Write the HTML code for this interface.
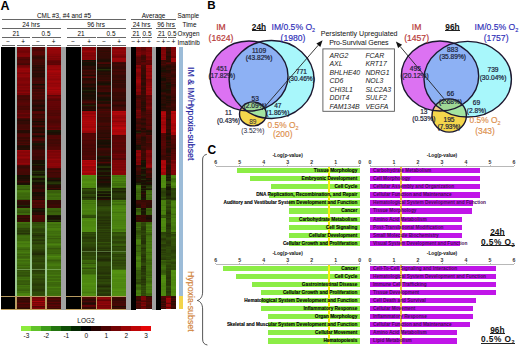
<!DOCTYPE html><html><head><meta charset="utf-8"><style>
*{margin:0;padding:0;box-sizing:border-box}
html,body{width:520px;height:347px;background:#fff;overflow:hidden}
body{position:relative;font-family:"Liberation Sans",sans-serif;color:#222}
.a{position:absolute;white-space:nowrap}
.hm{position:absolute}
.t7{font-size:7.2px;line-height:1}
.ln{position:absolute;height:1px;background:#555}
</style></head><body>
<div class="a" style="left:0.5px;top:0px;font-size:12.5px;font-weight:bold;line-height:12px;color:#000">A</div>
<div class="a" style="left:64.0px;top:12.8px;width:0;font-size:6.4px;line-height:1;color:#0a0a0a;display:flex;justify-content:center;"><span>CML #3, #4 and #5</span></div>
<div class="a" style="left:2.0px;top:19.0px;width:123.5px;height:1.0px;background:#666"></div>
<div class="a" style="left:31.0px;top:22.3px;width:0;font-size:6.4px;line-height:1;color:#0a0a0a;display:flex;justify-content:center;"><span>24 hrs</span></div>
<div class="a" style="left:2.0px;top:28.0px;width:58.5px;height:1.0px;background:#666"></div>
<div class="a" style="left:96.0px;top:22.3px;width:0;font-size:6.4px;line-height:1;color:#0a0a0a;display:flex;justify-content:center;"><span>96 hrs</span></div>
<div class="a" style="left:67.0px;top:28.0px;width:58.5px;height:1.0px;background:#666"></div>
<div class="a" style="left:153.5px;top:12.8px;width:0;font-size:6.4px;line-height:1;color:#0a0a0a;display:flex;justify-content:center;"><span>Average</span></div>
<div class="a" style="left:131.0px;top:19.0px;width:45.0px;height:1.0px;background:#666"></div>
<div class="a" style="left:141.5px;top:22.3px;width:0;font-size:6.4px;line-height:1;color:#0a0a0a;display:flex;justify-content:center;"><span>24 hrs</span></div>
<div class="a" style="left:131.0px;top:28.0px;width:21.0px;height:1.0px;background:#666"></div>
<div class="a" style="left:166.0px;top:22.3px;width:0;font-size:6.4px;line-height:1;color:#0a0a0a;display:flex;justify-content:center;"><span>96 hrs</span></div>
<div class="a" style="left:156.0px;top:28.0px;width:20.0px;height:1.0px;background:#666"></div>
<div class="a" style="left:177.5px;top:12.8px;font-size:6.4px;line-height:1;color:#0a0a0a;">Sample</div>
<div class="a" style="left:182.5px;top:22.3px;font-size:6.4px;line-height:1;color:#0a0a0a;">Time</div>
<div class="a" style="left:177.5px;top:31.3px;font-size:6.4px;line-height:1;color:#0a0a0a;">Oxygen</div>
<div class="a" style="left:177.5px;top:39.8px;font-size:6.4px;line-height:1;color:#0a0a0a;">Imatinib</div>
<div class="a" style="left:16.0px;top:31.3px;width:0;font-size:6.4px;line-height:1;color:#0a0a0a;display:flex;justify-content:center;"><span>21</span></div>
<div class="a" style="left:2.0px;top:36.5px;width:28.0px;height:1.0px;background:#666"></div>
<div class="a" style="left:46.0px;top:31.3px;width:0;font-size:6.4px;line-height:1;color:#0a0a0a;display:flex;justify-content:center;"><span>0.5</span></div>
<div class="a" style="left:32.0px;top:36.5px;width:28.5px;height:1.0px;background:#666"></div>
<div class="a" style="left:81.0px;top:31.3px;width:0;font-size:6.4px;line-height:1;color:#0a0a0a;display:flex;justify-content:center;"><span>21</span></div>
<div class="a" style="left:67.0px;top:36.5px;width:28.5px;height:1.0px;background:#666"></div>
<div class="a" style="left:111.0px;top:31.3px;width:0;font-size:6.4px;line-height:1;color:#0a0a0a;display:flex;justify-content:center;"><span>0.5</span></div>
<div class="a" style="left:97.0px;top:36.5px;width:28.5px;height:1.0px;background:#666"></div>
<div class="a" style="left:136.0px;top:31.3px;width:0;font-size:6.4px;line-height:1;color:#0a0a0a;display:flex;justify-content:center;"><span>21</span></div>
<div class="a" style="left:131.0px;top:36.5px;width:9.5px;height:1.0px;background:#666"></div>
<div class="a" style="left:147.0px;top:31.3px;width:0;font-size:6.4px;line-height:1;color:#0a0a0a;display:flex;justify-content:center;"><span>0.5</span></div>
<div class="a" style="left:142.0px;top:36.5px;width:10.0px;height:1.0px;background:#666"></div>
<div class="a" style="left:161.5px;top:31.3px;width:0;font-size:6.4px;line-height:1;color:#0a0a0a;display:flex;justify-content:center;"><span>21</span></div>
<div class="a" style="left:157.0px;top:36.5px;width:9.5px;height:1.0px;background:#666"></div>
<div class="a" style="left:172.0px;top:31.3px;width:0;font-size:6.4px;line-height:1;color:#0a0a0a;display:flex;justify-content:center;"><span>0.5</span></div>
<div class="a" style="left:167.5px;top:36.5px;width:8.5px;height:1.0px;background:#666"></div>
<div class="a" style="left:8.0px;top:39.0px;width:0;font-size:6.4px;line-height:1;color:#000;display:flex;justify-content:center;"><span>−</span></div>
<div class="a" style="left:2.0px;top:44.5px;width:12.5px;height:1.0px;background:#666"></div>
<div class="a" style="left:23.0px;top:39.0px;width:0;font-size:6.4px;line-height:1;color:#000;display:flex;justify-content:center;"><span>+</span></div>
<div class="a" style="left:16.5px;top:44.5px;width:13.5px;height:1.0px;background:#666"></div>
<div class="a" style="left:38.0px;top:39.0px;width:0;font-size:6.4px;line-height:1;color:#000;display:flex;justify-content:center;"><span>−</span></div>
<div class="a" style="left:32.0px;top:44.5px;width:13.0px;height:1.0px;background:#666"></div>
<div class="a" style="left:53.5px;top:39.0px;width:0;font-size:6.4px;line-height:1;color:#000;display:flex;justify-content:center;"><span>+</span></div>
<div class="a" style="left:47.0px;top:44.5px;width:13.5px;height:1.0px;background:#666"></div>
<div class="a" style="left:73.0px;top:39.0px;width:0;font-size:6.4px;line-height:1;color:#000;display:flex;justify-content:center;"><span>−</span></div>
<div class="a" style="left:67.0px;top:44.5px;width:13.0px;height:1.0px;background:#666"></div>
<div class="a" style="left:89.0px;top:39.0px;width:0;font-size:6.4px;line-height:1;color:#000;display:flex;justify-content:center;"><span>+</span></div>
<div class="a" style="left:82.0px;top:44.5px;width:13.5px;height:1.0px;background:#666"></div>
<div class="a" style="left:104.0px;top:39.0px;width:0;font-size:6.4px;line-height:1;color:#000;display:flex;justify-content:center;"><span>−</span></div>
<div class="a" style="left:97.0px;top:44.5px;width:13.5px;height:1.0px;background:#666"></div>
<div class="a" style="left:119.0px;top:39.0px;width:0;font-size:6.4px;line-height:1;color:#000;display:flex;justify-content:center;"><span>+</span></div>
<div class="a" style="left:112.0px;top:44.5px;width:13.5px;height:1.0px;background:#666"></div>
<div class="a" style="left:133.5px;top:39.0px;width:0;font-size:6.6px;line-height:1;color:#000;display:flex;justify-content:center;"><span>−</span></div>
<div class="a" style="left:138.5px;top:39.0px;width:0;font-size:6.6px;line-height:1;color:#000;display:flex;justify-content:center;"><span>+</span></div>
<div class="a" style="left:143.5px;top:39.0px;width:0;font-size:6.6px;line-height:1;color:#000;display:flex;justify-content:center;"><span>−</span></div>
<div class="a" style="left:149.0px;top:39.0px;width:0;font-size:6.6px;line-height:1;color:#000;display:flex;justify-content:center;"><span>+</span></div>
<div class="a" style="left:158.5px;top:39.0px;width:0;font-size:6.6px;line-height:1;color:#000;display:flex;justify-content:center;"><span>−</span></div>
<div class="a" style="left:163.5px;top:39.0px;width:0;font-size:6.6px;line-height:1;color:#000;display:flex;justify-content:center;"><span>+</span></div>
<div class="a" style="left:168.5px;top:39.0px;width:0;font-size:6.6px;line-height:1;color:#000;display:flex;justify-content:center;"><span>−</span></div>
<div class="a" style="left:173.5px;top:39.0px;width:0;font-size:6.6px;line-height:1;color:#000;display:flex;justify-content:center;"><span>+</span></div>
<div style="position:absolute;left:0;top:0;width:200px;height:320px;filter:blur(0.4px)">
<div class="hm" style="left:61.0px;top:47px;width:5.0px;height:263px;background:#a2a2a2"></div>
<div class="hm" style="left:126.0px;top:47px;width:5.0px;height:263px;background:#a2a2a2"></div>
<div class="hm" style="left:151.5px;top:47px;width:4.5px;height:263px;background:#a2a2a2"></div>
<div class="hm" style="left:1.0px;top:47px;width:15.0px;height:263px;background:#000"></div>
<div class="hm" style="left:66.0px;top:47px;width:15.5px;height:263px;background:#000"></div>
<div class="hm" style="left:131.0px;top:47px;width:4.5px;height:263px;background:#000"></div>
<div class="hm" style="left:156.0px;top:47px;width:4.5px;height:263px;background:#000"></div>
<div class="hm" style="left:16.5px;top:47px;width:14.0px;height:249px;background:linear-gradient(to bottom,#770407 0px 1px,#7d0507 1px 2px,#790407 2px 3px,#760407 3px 4px,#6f0406 4px 5px,#720407 5px 6px,#800507 6px 8px,#860508 8px 9px,#820508 9px 10px,#580505 10px 11px,#570605 11px 12px,#490705 12px 13px,#540605 13px 14px,#570605 14px 15px,#580505 15px 16px,#490705 16px 17px,#420905 17px 18px,#6f0406 18px 19px,#740407 19px 20px,#7d0507 20px 21px,#930609 21px 22px,#990609 22px 23px,#910508 23px 24px,#960609 24px 25px,#850508 25px 26px,#7d0507 26px 27px,#8f0508 27px 28px,#8d0508 28px 29px,#920609 29px 30px,#840508 30px 31px,#7c0507 31px 33px,#7e0507 33px 34px,#850508 34px 35px,#860508 35px 36px,#800507 36px 37px,#780407 37px 39px,#880508 39px 40px,#7d0507 40px 41px,#820508 41px 42px,#850508 42px 43px,#760407 43px 44px,#7c0507 44px 45px,#8b0508 45px 46px,#740407 46px 47px,#780407 47px 48px,#470804 48px 49px,#440805 49px 50px,#4b0705 50px 52px,#410905 52px 53px,#4d0705 53px 54px,#500705 54px 55px,#550606 55px 56px,#5b0505 56px 57px,#560606 57px 58px,#520705 58px 59px,#450805 59px 60px,#4d0705 60px 61px,#480804 61px 62px,#470804 62px 63px,#5c0505 63px 64px,#5a0505 64px 65px,#5d0405 65px 66px,#6d0406 66px 67px,#5b0505 67px 68px,#560606 68px 69px,#600405 69px 70px,#700406 70px 71px,#450805 71px 72px,#340a05 72px 73px,#270c04 73px 74px,#350a05 74px 75px,#340a05 75px 76px,#310b05 76px 77px,#3e0905 77px 78px,#460805 78px 79px,#430805 79px 80px,#420905 80px 81px,#430805 81px 82px,#4c0705 82px 83px,#260c04 83px 84px,#250c05 84px 85px,#250c04 85px 86px,#400905 86px 87px,#4b0705 87px 88px,#4e0605 88px 89px,#4d0705 89px 90px,#3a0904 90px 92px,#450805 92px 93px,#360a04 93px 94px,#3c0a05 94px 95px,#470804 95px 96px,#3b0a05 96px 97px,#4b0705 97px 98px,#270c04 98px 99px,#1e0e04 99px 100px,#210d04 100px 101px,#280c04 101px 102px,#230d05 102px 103px,#980609 103px 104px,#8a0508 104px 105px,#850508 105px 106px,#900508 106px 107px,#8c0508 107px 108px,#820508 108px 109px,#8e0508 109px 110px,#980609 110px 111px,#8c0508 111px 112px,#7d0507 112px 113px,#820508 113px 114px,#830508 114px 116px,#920609 116px 117px,#840508 117px 118px,#460805 118px 119px,#390a04 119px 120px,#360a05 120px 121px,#3e0905 121px 122px,#460804 122px 123px,#490705 123px 124px,#450805 124px 125px,#430905 125px 126px,#420905 126px 127px,#440805 127px 128px,#150f04 128px 129px,#190f04 129px 130px,#200d04 130px 131px,#1a0e04 131px 132px,#240d05 132px 133px,#250c05 133px 134px,#3c0a05 134px 135px,#2d0c04 135px 136px,#1b0e04 136px 137px,#171304 137px 138px,#3e6c0d 138px 139px,#3a630c 139px 140px,#3d6a0c 140px 141px,#3c660c 141px 142px,#36580b 142px 143px,#45790e 143px 144px,#477c0f 144px 145px,#41700d 145px 146px,#3d6a0c 146px 147px,#3c680c 147px 148px,#3e6c0d 148px 149px,#3c660c 149px 150px,#3b650c 150px 151px,#3e6c0d 151px 152px,#34570b 152px 153px,#3c0a05 153px 154px,#2d0c04 154px 155px,#2c0c04 155px 156px,#2a0c04 156px 157px,#2c0c04 157px 158px,#1f2406 158px 159px,#171404 159px 160px,#2f0b05 160px 161px,#3f6d0d 161px 162px,#3d6a0c 162px 163px,#385e0b 163px 164px,#375a0b 164px 165px,#33520a 165px 166px,#3d6a0c 166px 168px,#340a05 168px 169px,#3b0904 169px 170px,#420905 170px 171px,#2a0c04 171px 172px,#3a0904 172px 173px,#2f0b05 173px 174px,#390a04 174px 175px,#41710d 175px 176px,#3d690c 176px 177px,#375c0c 177px 178px,#3a610b 178px 179px,#39610b 179px 180px,#375c0b 180px 181px,#2e4609 181px 182px,#2f4a09 182px 183px,#2a3e08 183px 184px,#293c08 184px 185px,#2e4609 185px 186px,#253207 186px 187px,#2e480a 187px 188px,#3c670c 188px 189px,#3f6e0d 189px 191px,#3d690c 191px 192px,#3e6a0d 192px 193px,#3c680c 193px 194px,#477b0f 194px 195px,#4a810f 195px 196px,#43750e 196px 197px,#477c0f 197px 198px,#497f0f 198px 199px,#4b8210 199px 200px,#406f0d 200px 201px,#3d6a0c 201px 202px,#39600b 202px 203px,#41710d 203px 205px,#477c0f 205px 206px,#3f6f0d 206px 207px,#3a620b 207px 208px,#41710d 208px 209px,#3a630c 209px 210px,#3a610b 210px 211px,#3e6a0d 211px 212px,#497f0f 212px 213px,#3e6b0d 213px 214px,#3f6f0d 214px 215px,#43760e 215px 216px,#406f0d 216px 217px,#3e6c0d 217px 218px,#3a610b 218px 219px,#41720e 219px 220px,#3d670c 220px 221px,#385f0b 221px 222px,#375b0b 222px 223px,#32510a 223px 224px,#385d0b 224px 225px,#33530a 225px 226px,#34560b 226px 227px,#35580b 227px 228px,#304d09 228px 229px,#34560b 229px 230px,#3e6c0d 230px 231px,#3c670c 231px 232px,#41710d 232px 233px,#385e0b 233px 234px,#365a0b 234px 235px,#395f0b 235px 236px,#385e0b 236px 237px,#34550b 237px 238px,#42730e 238px 239px,#3d690c 239px 240px,#41710d 240px 241px,#3e6a0d 241px 242px,#3a640c 242px 243px,#385f0b 243px 244px,#41710d 244px 245px,#3e6c0d 245px 246px,#4a810f 246px 247px,#4b8310 247px 248px,#4d8710 248px 249px)"></div>
<div class="hm" style="left:16.5px;top:296px;width:14.0px;height:13px;background:linear-gradient(to bottom,#4e0605 0px 1px,#2b0c04 1px 2px,#3e0a05 2px 3px,#3b0904 3px 4px,#3e0a05 4px 5px,#350a05 5px 6px,#420905 6px 7px,#590505 7px 8px,#3e0905 8px 9px,#460805 9px 10px,#4d0605 10px 11px,#3b0904 11px 12px,#2b0c04 12px 13px)"></div>
<div class="hm" style="left:31.5px;top:47px;width:14.0px;height:249px;background:linear-gradient(to bottom,#4e0605 0px 1px,#580505 1px 2px,#490705 2px 4px,#550606 4px 5px,#5a0505 5px 6px,#560606 6px 7px,#5a0505 7px 8px,#430905 8px 9px,#380a04 9px 10px,#2f0b05 10px 11px,#330b05 11px 12px,#3e0905 12px 13px,#480804 13px 14px,#440805 14px 15px,#420905 15px 16px,#3c0a05 16px 17px,#430905 17px 18px,#2c0c04 18px 19px,#350a05 19px 20px,#260c04 20px 21px,#320b05 21px 22px,#310b05 22px 23px,#270c04 23px 24px,#350a05 24px 26px,#270c04 26px 27px,#2a0c04 27px 28px,#2b0c04 28px 29px,#260c04 29px 30px,#370a04 30px 31px,#3e0a05 31px 32px,#410905 32px 33px,#3d0a05 33px 34px,#4a0705 34px 35px,#460804 35px 36px,#420905 36px 37px,#180f04 37px 38px,#310b05 38px 39px,#440805 39px 40px,#350a05 40px 41px,#2b0c04 41px 42px,#4a0705 42px 43px,#3f0905 43px 44px,#420905 44px 45px,#510705 45px 46px,#410905 46px 47px,#450805 47px 48px,#4f0705 48px 49px,#450805 49px 51px,#490705 51px 52px,#3d0a05 52px 53px,#2c0c04 53px 54px,#320b05 54px 55px,#3d0a05 55px 56px,#350a05 56px 57px,#2f0b05 57px 58px,#1f0e04 58px 59px,#210d04 59px 60px,#360a05 60px 61px,#330b05 61px 62px,#240d05 62px 63px,#1d0e04 63px 64px,#4e0605 64px 65px,#560606 65px 66px,#4f0605 66px 67px,#330b05 67px 68px,#3e0a05 68px 69px,#410905 69px 70px,#4c0705 70px 71px,#3a0904 71px 72px,#320b05 72px 73px,#370a04 73px 74px,#161004 74px 75px,#2f0b05 75px 76px,#320b05 76px 77px,#240c05 77px 78px,#3d0a05 78px 79px,#510705 79px 80px,#280d04 80px 81px,#210d04 81px 82px,#2b0c04 82px 83px,#2e0c04 83px 84px,#270c04 84px 85px,#1b0e04 85px 86px,#440805 86px 87px,#480804 87px 88px,#280c04 88px 89px,#150f04 89px 90px,#3a0904 90px 91px,#420905 91px 92px,#540605 92px 93px,#4c0705 93px 94px,#2f0b05 94px 95px,#320b05 95px 96px,#181805 96px 97px,#171404 97px 98px,#1e0e04 98px 99px,#2d0c04 99px 100px,#210d04 100px 101px,#250c05 101px 102px,#2f0b05 102px 103px,#420905 103px 104px,#450805 104px 105px,#430905 105px 106px,#3e0905 106px 107px,#440805 107px 108px,#420905 108px 109px,#3a0904 109px 110px,#370a04 110px 111px,#3a0904 111px 112px,#3b0a05 112px 113px,#180f04 113px 115px,#1b0e04 115px 116px,#170f04 116px 117px,#1e2305 117px 118px,#151004 118px 119px,#260c04 119px 120px,#250c04 120px 121px,#1c0e04 121px 122px,#200d04 122px 123px,#191805 123px 124px,#263408 124px 125px,#1c1f06 125px 126px,#1f2706 126px 127px,#180f04 127px 128px,#1d2006 128px 129px,#2d4509 129px 130px,#283c08 130px 131px,#1c0e04 131px 132px,#161004 132px 133px,#202806 133px 134px,#202706 134px 135px,#151004 135px 136px,#1d0e04 136px 138px,#310b05 138px 139px,#2f0b05 139px 140px,#230d05 140px 141px,#270c04 141px 142px,#380a04 142px 143px,#370a04 143px 145px,#170f04 145px 146px,#150f04 146px 147px,#210d04 147px 148px,#180f04 148px 149px,#280c04 149px 150px,#290d04 150px 151px,#2f0c04 151px 152px,#200d04 152px 153px,#550605 153px 154px,#520705 154px 155px,#460804 155px 156px,#430905 156px 157px,#530605 157px 158px,#460805 158px 159px,#490705 159px 160px,#4a0705 160px 161px,#1b0e04 161px 162px,#1d2106 162px 163px,#171504 163px 164px,#190f04 164px 165px,#280c04 165px 166px,#2b0c04 166px 167px,#210d04 167px 168px,#4f0705 168px 169px,#4d0705 169px 170px,#490705 170px 171px,#470804 171px 172px,#430805 172px 173px,#480804 173px 174px,#3e0905 174px 175px,#314e09 175px 176px,#2f4a09 176px 177px,#34540a 177px 178px,#32510a 178px 179px,#375c0c 179px 180px,#35570b 180px 181px,#2f4909 181px 182px,#2c4309 182px 183px,#2c4509 183px 184px,#2e470a 184px 185px,#33520a 185px 186px,#293c08 186px 187px,#293d08 187px 188px,#232e07 188px 189px,#293d08 189px 190px,#2a3f08 190px 191px,#304d09 191px 192px,#2a3e08 192px 193px,#263508 193px 194px,#2e490a 194px 195px,#2c4309 195px 196px,#293a08 196px 197px,#2f4b09 197px 198px,#33530a 198px 199px,#33510a 199px 200px,#304c09 200px 201px,#32500a 201px 202px,#2d4609 202px 203px,#2b4008 203px 204px,#273907 204px 205px,#263408 205px 206px,#222c07 206px 207px,#212a06 207px 208px,#2a3f08 208px 209px,#2c4209 209px 210px,#2f480a 210px 211px,#304c09 211px 212px,#2c4509 212px 213px,#2d4409 213px 214px,#2a3e08 214px 215px,#304b09 215px 216px,#32510a 216px 217px,#2f480a 217px 218px,#2d4609 218px 220px,#2c4309 220px 221px,#2e480a 221px 222px,#2a3e08 222px 223px,#283b08 223px 224px,#2a3f08 224px 225px,#2c4509 225px 226px,#2d4409 226px 227px,#36580b 227px 228px,#34540a 228px 229px,#2f4a09 229px 230px,#32520a 230px 231px,#2e4609 231px 232px,#2c4209 232px 233px,#314c09 233px 234px,#2f480a 234px 235px,#2e4609 235px 236px,#2b4008 236px 237px,#283a08 237px 238px,#293d08 238px 239px,#2d4609 239px 240px,#2d4409 240px 241px,#2c4209 241px 242px,#293a08 242px 244px,#2c4309 244px 245px,#304d09 245px 246px,#2f4909 246px 247px,#304b09 247px 248px,#314f0a 248px 249px)"></div>
<div class="hm" style="left:31.5px;top:296px;width:14.0px;height:13px;background:linear-gradient(to bottom,#790407 0px 1px,#710407 1px 2px,#7d0507 2px 3px,#850508 3px 4px,#730407 4px 5px,#a8060a 5px 6px,#750407 6px 7px,#900508 7px 8px,#7d0507 8px 9px,#910508 9px 10px,#520705 10px 11px,#6c0406 11px 12px,#800507 12px 13px)"></div>
<div class="hm" style="left:46.5px;top:47px;width:14.5px;height:249px;background:linear-gradient(to bottom,#870508 0px 1px,#9a0609 1px 2px,#900508 2px 3px,#950609 3px 4px,#920609 4px 6px,#8f0508 6px 7px,#870508 7px 8px,#890508 8px 9px,#7b0507 9px 10px,#890508 10px 11px,#7c0507 11px 12px,#810507 12px 13px,#670406 13px 14px,#5e0405 14px 15px,#5b0505 15px 16px,#620405 16px 17px,#5d0405 17px 18px,#8f0508 18px 19px,#930609 19px 20px,#980609 20px 21px,#9c0609 21px 22px,#910508 22px 23px,#a20609 23px 24px,#aa060a 24px 25px,#9e0609 25px 26px,#9b0609 26px 27px,#930609 27px 28px,#a00609 28px 29px,#930609 29px 30px,#990609 30px 31px,#920609 31px 32px,#8c0508 32px 33px,#960609 33px 34px,#a10609 34px 35px,#9a0609 35px 36px,#900508 36px 37px,#990609 37px 38px,#960609 38px 39px,#970609 39px 40px,#a3060a 40px 41px,#a5060a 41px 42px,#970609 42px 43px,#aa060a 43px 44px,#9f0609 44px 45px,#a00609 45px 46px,#940609 46px 47px,#930609 47px 48px,#5b0505 48px 49px,#700406 49px 50px,#780407 50px 51px,#650406 51px 52px,#5b0505 52px 53px,#550606 53px 54px,#670406 54px 55px,#630406 55px 56px,#650406 56px 57px,#630406 57px 58px,#640406 58px 59px,#5e0405 59px 60px,#630406 60px 61px,#5b0505 61px 62px,#600405 62px 63px,#510705 63px 64px,#550606 64px 65px,#520705 65px 66px,#4c0705 66px 67px,#510705 67px 68px,#4e0605 68px 69px,#5c0505 69px 71px,#570605 71px 72px,#510705 72px 73px,#4d0705 73px 74px,#490705 74px 75px,#4b0705 75px 76px,#510705 76px 77px,#550606 77px 78px,#590505 78px 79px,#640406 79px 80px,#560606 80px 81px,#540605 81px 82px,#680406 82px 83px,#191805 83px 84px,#191705 84px 85px,#190f04 85px 86px,#1f0e04 86px 87px,#250c05 87px 88px,#4d0705 88px 89px,#4f0705 89px 90px,#4e0605 90px 91px,#520705 91px 92px,#420905 92px 93px,#400905 93px 94px,#460805 94px 95px,#420905 95px 96px,#3f0905 96px 97px,#4a0705 97px 98px,#460804 98px 99px,#4d0605 99px 100px,#520705 100px 101px,#510705 101px 102px,#520705 102px 103px,#850508 103px 104px,#760407 104px 105px,#7c0507 105px 106px,#830508 106px 107px,#7d0507 107px 108px,#7e0507 108px 109px,#870508 109px 110px,#7c0507 110px 111px,#850508 111px 112px,#940609 112px 113px,#860508 113px 114px,#850508 114px 115px,#820508 115px 116px,#900508 116px 117px,#8b0508 117px 118px,#8f0508 118px 119px,#820508 119px 121px,#430905 121px 122px,#370a04 122px 123px,#470804 123px 124px,#4c0705 124px 125px,#3a0904 125px 126px,#440805 126px 127px,#430905 127px 128px,#460805 128px 129px,#470804 129px 130px,#3a0904 130px 131px,#191805 131px 132px,#280c04 132px 133px,#150f04 133px 134px,#1d2206 134px 135px,#243107 135px 136px,#273607 136px 137px,#1b1c05 137px 138px,#290d04 138px 139px,#260c04 139px 140px,#210d04 140px 141px,#3e0a05 141px 142px,#210d04 142px 143px,#3a630b 143px 144px,#385e0b 144px 145px,#385d0c 145px 146px,#3d690c 146px 147px,#41710d 147px 148px,#3c680c 148px 149px,#3a640c 149px 150px,#406f0d 150px 151px,#3e6b0d 151px 152px,#3e6c0d 152px 153px,#330b05 153px 154px,#320b05 154px 155px,#330b05 155px 156px,#310b05 156px 157px,#3a0904 157px 158px,#410905 158px 159px,#370a04 159px 160px,#3c0a05 160px 161px,#3c650c 161px 162px,#3b640c 162px 163px,#385e0b 163px 164px,#34540a 164px 165px,#385f0b 165px 166px,#3a620b 166px 167px,#3a610b 167px 168px,#1b1d05 168px 169px,#150f04 169px 170px,#181504 170px 171px,#1d0e04 171px 172px,#191905 172px 173px,#253207 173px 174px,#1a1a05 174px 175px,#477b0f 175px 177px,#3f6d0d 177px 178px,#41720d 178px 179px,#44770e 179px 180px,#406f0d 180px 181px,#497f0f 181px 183px,#45780e 183px 184px,#3e6c0d 184px 185px,#40700d 185px 186px,#3f6d0d 186px 187px,#43750e 187px 188px,#40700d 188px 189px,#3a620b 189px 190px,#406f0d 190px 191px,#375b0b 191px 192px,#3e6b0d 192px 193px,#3f6e0d 193px 194px,#3f6d0d 194px 195px,#3c660c 195px 196px,#44770e 196px 197px,#4b8310 197px 198px,#44770e 198px 199px,#3e6c0d 199px 200px,#3d690c 200px 201px,#34560b 201px 202px,#3a610b 202px 203px,#3c660c 203px 204px,#3a640c 204px 205px,#3c670c 205px 206px,#385e0b 206px 207px,#41720e 207px 208px,#43750e 208px 209px,#4e8810 209px 210px,#467b0f 210px 211px,#46790e 211px 212px,#3e6c0d 212px 213px,#375c0b 213px 214px,#3c660c 214px 215px,#3f6d0d 215px 216px,#42740e 216px 217px,#467a0f 217px 218px,#477c0f 218px 219px,#40700d 219px 222px,#41720e 222px 223px,#3d690c 223px 224px,#3c680c 224px 225px,#3f6d0d 225px 226px,#3d690c 226px 227px,#3f6e0d 227px 228px,#467b0f 228px 229px,#3c680c 229px 231px,#43750e 231px 232px,#3d690c 232px 233px,#3d6a0c 233px 234px,#477c0f 234px 235px,#3c670c 235px 236px,#3d690c 236px 237px,#3b650c 237px 238px,#3d690c 238px 239px,#3f6e0d 239px 240px,#497f0f 240px 241px,#3f6e0d 241px 242px,#406f0d 242px 243px,#42730e 243px 244px,#3f6e0d 244px 245px,#3f6f0d 245px 246px,#3d6a0c 246px 247px,#40700d 247px 248px,#41710d 248px 249px)"></div>
<div class="hm" style="left:46.5px;top:296px;width:14.5px;height:13px;background:linear-gradient(to bottom,#220d05 0px 1px,#3d0a05 1px 2px,#4d0605 2px 3px,#580505 3px 4px,#3e0a05 4px 5px,#420905 5px 6px,#5c0505 6px 7px,#3e0905 7px 8px,#4e0605 8px 9px,#5d0405 9px 10px,#440805 10px 11px,#560606 11px 12px,#380a04 12px 13px)"></div>
<div class="hm" style="left:82.0px;top:47px;width:14.0px;height:249px;background:linear-gradient(to bottom,#830508 0px 1px,#820508 1px 2px,#830508 2px 3px,#8c0508 3px 4px,#9d0609 4px 5px,#890508 5px 6px,#800507 6px 7px,#850508 7px 8px,#7a0507 8px 9px,#820508 9px 10px,#870508 10px 11px,#820508 11px 12px,#860508 12px 13px,#161004 13px 14px,#2a0c04 14px 15px,#171204 15px 16px,#161104 16px 17px,#150f04 17px 18px,#190f04 18px 19px,#2f0b05 19px 20px,#2d0c04 20px 21px,#250c05 21px 22px,#2f0b05 22px 23px,#450805 23px 24px,#370a04 24px 25px,#360a04 25px 26px,#430905 26px 27px,#3a0904 27px 28px,#1e0e04 28px 29px,#4a0705 29px 30px,#5c0505 30px 31px,#240d05 31px 32px,#260c04 32px 33px,#2f0c04 33px 34px,#3a0904 34px 35px,#3c0a05 35px 36px,#2f0b05 36px 37px,#1c0e04 37px 38px,#240d05 38px 39px,#360a04 39px 40px,#200d04 40px 41px,#150f04 41px 42px,#1f0e04 42px 43px,#1d2106 43px 44px,#151004 44px 45px,#180f04 45px 46px,#270c04 46px 47px,#1e0e04 47px 48px,#160f04 48px 49px,#1a0f04 49px 50px,#210d04 50px 51px,#1b0e04 51px 52px,#230d05 52px 53px,#320b05 53px 54px,#400905 54px 55px,#4f0705 55px 56px,#300b05 56px 57px,#270c04 57px 58px,#1f2606 58px 59px,#320b05 59px 60px,#230d05 60px 61px,#260c04 61px 62px,#2f0b05 62px 63px,#180f04 63px 64px,#9b0609 64px 65px,#9e0609 65px 66px,#8f0508 66px 67px,#9b0609 67px 68px,#aa060a 68px 69px,#950609 69px 70px,#a3060a 70px 71px,#a4060a 71px 72px,#a7060a 72px 73px,#a9060a 73px 74px,#b1070a 74px 75px,#a8060a 75px 76px,#ad070a 76px 77px,#a4060a 77px 78px,#a9060a 78px 79px,#9e0609 79px 80px,#9f0609 80px 81px,#b0070a 81px 82px,#ad070a 82px 83px,#a6060a 83px 84px,#9a0609 84px 85px,#970609 85px 86px,#4a0705 86px 87px,#530605 87px 89px,#540605 89px 90px,#510705 90px 91px,#580505 91px 92px,#510705 92px 93px,#4b0705 93px 94px,#520705 94px 95px,#510705 95px 96px,#4d0705 96px 97px,#490705 97px 98px,#440805 98px 99px,#4b0705 99px 100px,#4c0705 100px 101px,#420905 101px 102px,#480804 102px 103px,#490705 103px 104px,#420905 104px 105px,#4a0705 105px 106px,#470804 106px 107px,#460805 107px 108px,#4d0705 108px 109px,#540605 109px 110px,#4a0705 110px 111px,#4c0705 111px 112px,#440805 112px 113px,#b4070b 113px 114px,#a7060a 114px 115px,#af070a 115px 116px,#a3060a 116px 117px,#aa060a 117px 118px,#ba070b 118px 119px,#970609 119px 120px,#980609 120px 121px,#a20609 121px 122px,#a10609 122px 123px,#9b0609 123px 124px,#b2070b 124px 125px,#ab070a 125px 126px,#970609 126px 127px,#a5060a 127px 128px,#539011 128px 129px,#4e8910 129px 130px,#508c11 130px 131px,#4f8a11 131px 132px,#4c8510 132px 133px,#4e8710 133px 134px,#528e11 134px 135px,#549312 135px 136px,#4f8a10 136px 137px,#4d8710 137px 138px,#508c11 138px 139px,#4e8710 139px 140px,#4d8710 140px 141px,#273707 141px 142px,#314e0a 142px 143px,#2f4a09 143px 144px,#293d08 144px 145px,#273807 145px 146px,#253408 146px 147px,#314f0a 147px 148px,#2d4509 148px 149px,#2a3f08 149px 150px,#212906 150px 151px,#293d08 151px 152px,#2b4109 152px 153px,#497f0f 153px 154px,#44760e 154px 155px,#497f0f 155px 156px,#42730e 156px 157px,#49800f 157px 158px,#487d0f 158px 159px,#4a800f 159px 160px,#497f0f 160px 161px,#4a820f 161px 162px,#4d8610 162px 163px,#487e0f 163px 164px,#477b0f 164px 165px,#4a800f 165px 166px,#497f0f 166px 167px,#43750e 167px 168px,#32500a 168px 169px,#314f0a 169px 170px,#2e490a 170px 171px,#4c8410 171px 172px,#4e8710 172px 173px,#528f11 173px 174px,#4d8610 174px 175px,#4d8510 175px 176px,#4d8610 176px 177px,#4e8810 177px 178px,#4d8610 178px 179px,#4e8910 179px 180px,#508c11 180px 181px,#518c11 181px 182px,#508c11 182px 184px,#528e11 184px 185px,#2d4509 185px 186px,#314f0a 186px 187px,#2c4309 187px 188px,#304c09 188px 189px,#2c4409 189px 190px,#273807 190px 191px,#283b08 191px 192px,#2d4609 192px 193px,#2d4409 193px 194px,#2c4209 194px 195px,#33510a 195px 196px,#314f0a 196px 197px,#2e470a 197px 198px,#2e490a 198px 199px,#2d4509 199px 200px,#2a3e08 200px 201px,#283908 201px 202px,#273607 202px 203px,#273807 203px 204px,#2b4008 204px 205px,#2b4109 205px 206px,#2c4409 206px 207px,#2d4609 207px 208px,#2d4509 208px 209px,#33530a 209px 210px,#304d09 210px 211px,#2f480a 211px 212px,#314e09 212px 213px,#3d6a0c 213px 214px,#3a630b 214px 215px,#3b640c 215px 216px,#33520a 216px 217px,#41720e 217px 218px,#3e6c0d 218px 219px,#46790e 219px 220px,#3b650c 220px 221px,#314e0a 221px 222px,#3f6f0d 222px 223px,#3c680c 223px 224px,#3a620b 224px 225px,#3b650c 225px 226px,#39600b 226px 227px,#44760e 227px 228px,#4e8810 228px 229px,#4d8610 229px 230px,#4d8710 230px 231px,#4f8910 231px 232px,#4d8610 232px 233px,#4e8810 233px 234px,#4d8710 234px 235px,#4f8910 235px 236px,#539111 236px 237px,#508c11 237px 238px,#4f8910 238px 239px,#4c8510 239px 240px,#4f8a10 240px 241px,#4e8910 241px 242px,#4d8510 242px 243px,#4d8610 243px 244px,#4a820f 244px 245px,#45790e 245px 246px,#4d8510 246px 247px,#518e11 247px 248px,#4e8710 248px 249px)"></div>
<div class="hm" style="left:82.0px;top:296px;width:14.0px;height:13px;background:linear-gradient(to bottom,#550606 0px 1px,#4c0705 1px 2px,#4a0705 2px 3px,#340a05 3px 4px,#330b05 4px 5px,#4c0705 5px 6px,#300b05 6px 7px,#220d05 7px 8px,#2f0b05 8px 9px,#640406 9px 10px,#5c0505 10px 11px,#330b05 11px 12px,#330b05 12px 13px)"></div>
<div class="hm" style="left:97.0px;top:47px;width:14.0px;height:249px;background:linear-gradient(to bottom,#360a05 0px 1px,#2f0b05 1px 2px,#3b0904 2px 3px,#360a04 3px 4px,#2e0c04 4px 5px,#3a0904 5px 6px,#330b05 6px 7px,#350a05 7px 8px,#340a05 8px 9px,#320b05 9px 10px,#350a05 10px 11px,#2f0b05 11px 12px,#240d05 12px 13px,#1d0e04 13px 14px,#1f0e04 14px 15px,#420905 15px 16px,#4a0705 16px 17px,#210d04 17px 18px,#2c0c04 18px 19px,#2a0c04 19px 20px,#1b0e04 20px 21px,#150f04 21px 22px,#222d07 22px 23px,#191805 23px 24px,#200d04 24px 25px,#2b0c04 25px 26px,#260c04 26px 27px,#220d05 27px 28px,#320b05 28px 29px,#2c0c04 29px 30px,#330b05 30px 31px,#350a05 31px 32px,#300b05 32px 33px,#3e0905 33px 34px,#280d04 34px 35px,#210d04 35px 36px,#160f04 36px 37px,#171404 37px 38px,#330b05 38px 39px,#460804 39px 40px,#360a04 40px 42px,#3f0905 42px 43px,#3e0905 43px 44px,#440805 44px 45px,#200d04 45px 46px,#190f04 46px 47px,#250c04 47px 48px,#3b0904 48px 49px,#310b05 49px 50px,#1d0e04 50px 51px,#1c0e04 51px 52px,#160f04 52px 53px,#181604 53px 54px,#310b05 54px 55px,#210d04 55px 56px,#230d05 56px 57px,#450805 57px 58px,#470804 58px 59px,#3a0904 59px 60px,#260c04 60px 61px,#2b0c04 61px 62px,#410905 62px 63px,#3c0a05 63px 64px,#4e0605 64px 65px,#440805 65px 66px,#420905 66px 67px,#3c0a05 67px 68px,#3e0a05 68px 69px,#450805 69px 70px,#340a05 70px 71px,#370a04 71px 72px,#390904 72px 73px,#350a05 73px 75px,#3d0a05 75px 76px,#490705 76px 77px,#450805 77px 78px,#420905 78px 79px,#320b05 79px 80px,#430805 80px 81px,#3e0905 81px 82px,#3b0a05 82px 83px,#320b05 83px 84px,#350a05 84px 85px,#2f0b05 85px 86px,#2b0c04 86px 87px,#340a05 87px 88px,#320b05 88px 89px,#340a05 89px 90px,#240c05 90px 91px,#3f0905 91px 92px,#2d0c04 92px 93px,#171304 93px 94px,#1d0e04 94px 95px,#1a0e04 95px 96px,#150f04 96px 97px,#1d0e04 97px 98px,#2a0c04 98px 99px,#1a0f04 99px 100px,#220d05 100px 101px,#3e0905 101px 102px,#410905 102px 103px,#360a05 103px 104px,#340a05 104px 105px,#2f0b05 105px 106px,#2f0c04 106px 107px,#3a0904 107px 108px,#330b05 108px 109px,#1a1a05 109px 110px,#1c0e04 110px 111px,#180f04 111px 112px,#2d0c04 112px 113px,#240c05 113px 114px,#2c0c04 114px 115px,#4f0705 115px 116px,#2f0c04 116px 117px,#1d0e04 117px 118px,#171504 118px 119px,#222e07 119px 120px,#253207 120px 121px,#180f04 121px 122px,#1a0f04 122px 123px,#1c1f06 123px 124px,#1e2305 124px 125px,#230d05 125px 126px,#1c0e04 126px 127px,#210d04 127px 128px,#1f2706 128px 129px,#170f04 129px 130px,#2b0c04 130px 131px,#270c04 131px 132px,#170f04 132px 133px,#181504 133px 134px,#250c05 134px 135px,#2a0c04 135px 136px,#171304 136px 138px,#191605 138px 139px,#1a1c05 139px 140px,#212906 140px 141px,#2b3f08 141px 142px,#283b08 142px 143px,#304b09 143px 144px,#1d2106 144px 145px,#191905 145px 146px,#263408 146px 147px,#171304 147px 148px,#180f04 148px 149px,#293a08 149px 150px,#160f04 150px 151px,#190f04 151px 152px,#2e0c04 152px 153px,#232d07 153px 154px,#243107 154px 155px,#253308 155px 156px,#273607 156px 157px,#273807 157px 158px,#243107 158px 159px,#2d4409 159px 160px,#2f4b09 160px 161px,#324f0a 161px 162px,#304b09 162px 163px,#2e490a 163px 164px,#2b4008 164px 165px,#283c08 165px 166px,#293c08 166px 167px,#2c4209 167px 168px,#2c4309 168px 169px,#273807 169px 170px,#253308 170px 171px,#263707 171px 172px,#293d08 172px 173px,#232f07 173px 174px,#293b08 174px 175px,#273607 175px 176px,#232f07 176px 177px,#273907 177px 178px,#253408 178px 179px,#2b4109 179px 180px,#273607 180px 181px,#273807 181px 182px,#2e470a 182px 183px,#293c08 183px 184px,#2c4409 184px 185px,#263508 185px 186px,#2a3f08 186px 187px,#2b3f08 187px 188px,#283b08 188px 189px,#2b3f08 189px 190px,#283b08 190px 191px,#2b4009 191px 192px,#283907 192px 193px,#293a08 193px 194px,#283908 194px 195px,#33520a 195px 196px,#2a3e08 196px 197px,#293d08 197px 198px,#304b09 198px 199px,#2d4309 199px 200px,#293c08 200px 201px,#253408 201px 202px,#2b4109 202px 203px,#253207 203px 204px,#273907 204px 205px,#1f2606 205px 206px,#243308 206px 207px,#253207 207px 208px,#283a08 208px 209px,#2d4509 209px 210px,#273807 210px 211px,#253308 211px 212px,#212a06 212px 213px,#222c07 213px 214px,#283a08 214px 215px,#2e490a 215px 216px,#2f480a 216px 218px,#2f490a 218px 219px,#2a3e08 219px 220px,#293a08 220px 221px,#2a3e08 221px 222px,#283c08 222px 223px,#2a3d08 223px 224px,#293b08 224px 225px,#263508 225px 226px,#243107 226px 227px,#293c08 227px 228px,#2f4909 228px 229px,#263707 229px 230px,#273907 230px 231px,#243107 231px 232px,#2d4509 232px 233px,#2d4409 233px 234px,#2a3f08 234px 235px,#2f4b09 235px 236px,#2f480a 236px 237px,#293c08 237px 238px,#253408 238px 239px,#212a06 239px 240px,#293a08 240px 241px,#2e470a 241px 242px,#2a3e08 242px 243px,#263508 243px 244px,#263707 244px 245px,#2d4509 245px 246px,#283a08 246px 247px,#263408 247px 248px,#253308 248px 249px)"></div>
<div class="hm" style="left:97.0px;top:296px;width:14.0px;height:13px;background:linear-gradient(to bottom,#780407 0px 1px,#870508 1px 2px,#910508 2px 3px,#770407 3px 4px,#600405 4px 5px,#880508 5px 6px,#8b0508 6px 7px,#820508 7px 8px,#930609 8px 9px,#760407 9px 10px,#800507 10px 11px,#7c0507 11px 12px,#8d0508 12px 13px)"></div>
<div class="hm" style="left:112.0px;top:47px;width:14.0px;height:249px;background:linear-gradient(to bottom,#8a0508 0px 1px,#800507 1px 2px,#900508 2px 3px,#940609 3px 4px,#8e0508 4px 5px,#8a0508 5px 6px,#930609 6px 7px,#850508 7px 8px,#7f0507 8px 9px,#730407 9px 10px,#7b0507 10px 11px,#9b0609 11px 12px,#9a0609 12px 13px,#980609 13px 14px,#910508 14px 15px,#400905 15px 16px,#350a05 16px 17px,#410905 17px 18px,#3d0a05 18px 19px,#360a05 19px 20px,#340a05 20px 21px,#330b05 21px 22px,#3e0905 22px 23px,#460805 23px 24px,#380a04 24px 25px,#410905 25px 26px,#460804 26px 27px,#3e0a05 27px 28px,#330b05 28px 30px,#340a05 30px 31px,#3b0a05 31px 32px,#3b0904 32px 33px,#2e0c04 33px 34px,#370a04 34px 35px,#2f0b05 35px 36px,#3e0a05 36px 37px,#350a05 37px 38px,#340a05 38px 39px,#330b05 39px 40px,#350a05 40px 41px,#420905 41px 42px,#460804 42px 44px,#450805 44px 45px,#370a04 45px 48px,#330b05 48px 49px,#3c0a05 49px 50px,#380a04 50px 51px,#360a05 51px 52px,#330b05 52px 53px,#290d04 53px 54px,#380a04 54px 55px,#450805 55px 56px,#420905 56px 57px,#390904 57px 58px,#280c04 58px 59px,#340a05 59px 60px,#410905 60px 61px,#420905 61px 62px,#470804 62px 63px,#4c0705 63px 64px,#b6070b 64px 65px,#a8060a 65px 66px,#af070a 66px 68px,#9b0609 68px 70px,#910508 70px 71px,#990609 71px 72px,#a3060a 72px 73px,#990609 73px 74px,#8b0508 74px 75px,#a2060a 75px 76px,#a5060a 76px 77px,#b1070a 77px 78px,#9e0609 78px 79px,#a9060a 79px 80px,#b9070b 80px 81px,#c0070b 81px 82px,#af070a 82px 83px,#ab070a 83px 84px,#a5060a 84px 85px,#ad070a 85px 86px,#b1070a 86px 87px,#aa070a 87px 88px,#4c0705 88px 89px,#540605 89px 90px,#510705 90px 91px,#560606 91px 93px,#600405 93px 94px,#610405 94px 95px,#570605 95px 97px,#610405 97px 98px,#560606 98px 99px,#580605 99px 100px,#5d0405 100px 101px,#610405 101px 102px,#5d0405 102px 103px,#580505 103px 104px,#520705 104px 105px,#590505 105px 106px,#5e0405 106px 107px,#720407 107px 108px,#600405 108px 109px,#670406 109px 110px,#680406 110px 111px,#560606 111px 112px,#540605 112px 113px,#7d0507 113px 114px,#7b0507 114px 115px,#7d0507 115px 116px,#830508 116px 117px,#7b0507 117px 118px,#830508 118px 119px,#7c0507 119px 120px,#7a0507 120px 121px,#830508 121px 122px,#7d0507 122px 123px,#820508 123px 124px,#900508 124px 125px,#890508 125px 126px,#840508 126px 127px,#890508 127px 128px,#487e0f 128px 129px,#42740e 129px 130px,#4a820f 130px 131px,#477c0f 131px 132px,#4a800f 132px 133px,#4b8310 133px 134px,#41720e 134px 135px,#49800f 135px 136px,#3f6e0d 136px 137px,#40700d 137px 138px,#3d6a0c 138px 139px,#487e0f 139px 140px,#42720e 140px 141px,#202706 141px 142px,#253207 142px 143px,#273707 143px 144px,#1e2305 144px 145px,#222d07 145px 146px,#263707 146px 147px,#2a3e08 147px 148px,#273807 148px 149px,#263608 149px 150px,#273607 150px 151px,#212906 151px 152px,#253408 152px 153px,#44770e 153px 154px,#3e6c0d 154px 155px,#497f0f 155px 156px,#43750e 156px 157px,#3c690c 157px 158px,#497f0f 158px 159px,#4b8310 159px 160px,#4c8510 160px 161px,#4f8910 161px 162px,#4b8210 162px 163px,#4e8810 163px 164px,#4a810f 164px 165px,#42740e 165px 166px,#4b8310 166px 167px,#4b8210 167px 168px,#4e8810 168px 169px,#4a800f 169px 170px,#4b8210 170px 171px,#4a820f 171px 172px,#49800f 172px 173px,#467b0f 173px 174px,#497f0f 174px 176px,#4a810f 176px 177px,#497f0f 177px 178px,#4c8410 178px 179px,#4a810f 179px 180px,#4e8710 180px 181px,#4c8510 181px 182px,#42740e 182px 183px,#45780e 183px 184px,#4b8210 184px 185px,#2f4b09 185px 186px,#32510a 186px 187px,#375b0b 187px 188px,#36580b 188px 189px,#2f4a09 189px 190px,#2d4609 190px 191px,#2f480a 191px 192px,#32510a 192px 193px,#34560b 193px 194px,#2d4409 194px 195px,#2c4409 195px 196px,#314e0a 196px 197px,#385e0b 197px 199px,#2a3f08 199px 200px,#304d09 200px 201px,#304c09 201px 202px,#2e480a 202px 203px,#2f4a09 203px 204px,#304c09 204px 205px,#34560b 205px 206px,#36580b 206px 207px,#2c4209 207px 208px,#304b09 208px 209px,#2c4309 209px 210px,#34540a 210px 211px,#33510a 211px 212px,#2f4b09 212px 213px,#2b4009 213px 214px,#314e0a 214px 215px,#2e4609 215px 216px,#2c4409 216px 217px,#314c09 217px 218px,#2e4609 218px 219px,#324f0a 219px 220px,#33520a 220px 221px,#314e09 221px 222px,#3a630b 222px 223px,#539011 223px 224px,#539111 224px 225px,#559312 225px 226px,#539011 226px 227px,#4f8a11 227px 228px,#508c11 228px 229px,#4d8610 229px 230px,#518d11 230px 231px,#539011 231px 232px,#4e8710 232px 233px,#4d8710 233px 234px,#4c8510 234px 235px,#508b11 235px 236px,#4e8710 236px 237px,#4e8810 237px 238px,#4d8610 238px 239px,#4e8810 239px 240px,#4c8410 240px 241px,#4f8a10 241px 242px,#518e11 242px 243px,#549211 243px 244px,#4f8910 244px 245px,#518d11 245px 246px,#528f11 246px 247px,#539011 247px 248px,#528f11 248px 249px)"></div>
<div class="hm" style="left:112.0px;top:296px;width:14.0px;height:13px;background:linear-gradient(to bottom,#2f0b05 0px 1px,#3e0905 1px 2px,#3a0904 2px 3px,#3a0904 3px 4px,#340a05 4px 5px,#440805 5px 6px,#3c0a05 6px 7px,#450805 7px 8px,#470804 8px 9px,#490705 9px 10px,#210d04 10px 11px,#3b0904 11px 12px,#360a04 12px 13px)"></div>
<div class="hm" style="left:135.5px;top:47px;width:5.5px;height:249px;background:linear-gradient(to bottom,#800507 0px 1px,#6e0406 1px 2px,#6d0406 2px 3px,#700406 3px 4px,#720407 4px 5px,#7e0507 5px 6px,#780407 6px 7px,#810507 7px 8px,#700406 8px 9px,#640406 9px 10px,#530605 10px 11px,#560606 11px 12px,#580505 12px 13px,#560606 13px 14px,#580505 14px 15px,#4d0705 15px 16px,#560606 16px 17px,#510705 17px 18px,#890508 18px 19px,#860508 19px 20px,#720407 20px 21px,#810507 21px 22px,#950609 22px 23px,#940609 23px 24px,#910508 24px 25px,#820508 25px 26px,#7e0507 26px 27px,#7b0507 27px 28px,#7f0507 28px 29px,#820508 29px 30px,#8f0508 30px 31px,#890508 31px 32px,#960609 32px 33px,#9c0609 33px 34px,#9f0609 34px 35px,#9a0609 35px 36px,#8f0508 36px 37px,#890508 37px 38px,#840508 38px 39px,#7c0507 39px 40px,#7e0507 40px 41px,#7a0507 41px 42px,#8d0508 42px 43px,#8c0508 43px 44px,#830508 44px 45px,#710406 45px 46px,#790407 46px 48px,#410905 48px 49px,#3e0905 49px 50px,#350a05 50px 51px,#450805 51px 52px,#480804 52px 53px,#5c0505 53px 54px,#540605 54px 55px,#4f0705 55px 56px,#580505 56px 57px,#530605 57px 58px,#510705 58px 59px,#4c0705 59px 60px,#470804 60px 61px,#550605 61px 62px,#580605 62px 63px,#7e0507 63px 64px,#700406 64px 65px,#6c0406 65px 66px,#630406 66px 67px,#6d0406 67px 68px,#600405 68px 69px,#680406 69px 70px,#720407 70px 71px,#4c0705 71px 72px,#3e0905 72px 73px,#460805 73px 74px,#3d0a05 74px 75px,#380a04 75px 76px,#320b05 76px 77px,#400905 77px 78px,#4b0705 78px 79px,#400905 79px 80px,#3a0904 80px 82px,#4d0605 82px 83px,#280c04 83px 84px,#190f04 84px 85px,#1f2506 85px 86px,#350a05 86px 87px,#450805 87px 88px,#510705 88px 89px,#490705 89px 90px,#410905 90px 91px,#3e0905 91px 92px,#330b05 92px 93px,#420905 93px 94px,#3a0904 94px 95px,#460804 95px 96px,#390a04 96px 97px,#350a05 97px 98px,#160f04 98px 99px,#181504 99px 100px,#1d0e04 100px 101px,#1c0e04 101px 102px,#191705 102px 103px,#860508 103px 104px,#8f0508 104px 105px,#7a0507 105px 106px,#920508 106px 107px,#910508 107px 108px,#940609 108px 109px,#7d0507 109px 110px,#7c0507 110px 111px,#7f0507 111px 112px,#8d0508 112px 113px,#7d0507 113px 114px,#7b0507 114px 115px,#6f0406 115px 116px,#790407 116px 117px,#840508 117px 118px,#300b05 118px 119px,#320b05 119px 120px,#3c0a05 120px 121px,#490705 121px 122px,#480804 122px 123px,#410905 123px 124px,#370a04 124px 125px,#340a05 125px 127px,#3b0904 127px 128px,#161204 128px 129px,#270c04 129px 130px,#210d04 130px 131px,#181605 131px 132px,#240d05 132px 133px,#270c04 133px 134px,#1f0e04 134px 135px,#171304 135px 136px,#202a06 136px 137px,#212a06 137px 138px,#40700d 138px 139px,#43750e 139px 140px,#477c0f 140px 141px,#41710d 141px 142px,#3e6b0d 142px 143px,#3b650c 143px 144px,#3a620b 144px 145px,#365a0b 145px 146px,#3d6a0c 146px 147px,#3a610b 147px 148px,#3f6e0d 148px 149px,#3c660c 149px 152px,#39600b 152px 153px,#330b05 153px 154px,#3d0a05 154px 155px,#400905 155px 156px,#390a04 156px 157px,#2d0c04 157px 158px,#250c04 158px 159px,#240d05 159px 160px,#270c04 160px 161px,#3d690c 161px 162px,#304d09 162px 163px,#33530a 163px 164px,#34550a 164px 165px,#3a640c 165px 166px,#3d6a0c 166px 168px,#380a04 168px 169px,#310b05 169px 170px,#410905 170px 171px,#390a04 171px 172px,#410905 172px 173px,#2c0c04 173px 174px,#330b05 174px 175px,#3b650c 175px 176px,#3a630c 176px 177px,#395e0b 177px 178px,#385e0b 178px 179px,#39600b 179px 180px,#42730e 180px 181px,#36580b 181px 182px,#3c660c 182px 183px,#33530a 183px 184px,#304d09 184px 185px,#314e09 185px 186px,#34540a 186px 187px,#34550a 187px 188px,#3b650c 188px 189px,#375c0b 189px 190px,#3c660c 190px 191px,#39600b 191px 192px,#44770e 192px 193px,#4b8210 193px 194px,#497f0f 194px 195px,#49800f 195px 196px,#497e0f 196px 197px,#43760e 197px 198px,#36580b 198px 199px,#3d6a0c 199px 200px,#3e6c0d 200px 202px,#3f6f0d 202px 203px,#3c670c 203px 204px,#385d0c 204px 205px,#41720d 205px 206px,#406f0d 206px 207px,#42730e 207px 208px,#3f6e0d 208px 209px,#497e0f 209px 210px,#4b8310 210px 211px,#4e8710 211px 212px,#487d0f 212px 213px,#43750e 213px 214px,#41720e 214px 215px,#4b8310 215px 216px,#497f0f 216px 218px,#4a820f 218px 219px,#4a810f 219px 220px,#42740e 220px 221px,#3e6d0d 221px 222px,#406f0d 222px 223px,#34560b 223px 224px,#385e0b 224px 225px,#375c0b 225px 226px,#365b0b 226px 227px,#34560b 227px 228px,#36590b 228px 229px,#375b0b 229px 230px,#375c0c 230px 231px,#39610b 231px 232px,#304b09 232px 233px,#314e0a 233px 234px,#33510a 234px 235px,#2c4209 235px 236px,#2c4309 236px 237px,#375c0c 237px 238px,#41710d 238px 239px,#3e6c0d 239px 240px,#3a610b 240px 241px,#39600b 241px 242px,#3b640c 242px 243px,#46790e 243px 244px,#49800f 244px 245px,#467a0e 245px 246px,#42740e 246px 247px,#497f0f 247px 249px)"></div>
<div class="hm" style="left:135.5px;top:296px;width:5.5px;height:13px;background:linear-gradient(to bottom,#380a04 0px 1px,#3f0905 1px 2px,#430805 2px 3px,#3a0904 3px 4px,#2b0c04 4px 5px,#510705 5px 6px,#570606 6px 7px,#3c0a05 7px 8px,#4d0605 8px 9px,#450805 9px 10px,#480804 10px 11px,#460805 11px 12px,#330b05 12px 13px)"></div>
<div class="hm" style="left:141.0px;top:47px;width:5.0px;height:249px;background:linear-gradient(to bottom,#570605 0px 1px,#5c0505 1px 2px,#500705 2px 3px,#5f0405 3px 4px,#690406 4px 5px,#6c0406 5px 6px,#6f0406 6px 7px,#650406 7px 8px,#450805 8px 9px,#3d0a05 9px 10px,#380a04 10px 11px,#3c0a05 11px 12px,#3d0a05 12px 13px,#500705 13px 14px,#3f0905 14px 15px,#560606 15px 16px,#610405 16px 17px,#560606 17px 18px,#430905 18px 19px,#420905 19px 20px,#3f0905 20px 21px,#3a0904 21px 22px,#390a04 22px 23px,#320b05 23px 24px,#370a04 24px 25px,#380a04 25px 26px,#3a0904 26px 27px,#330b05 27px 28px,#2c0c04 28px 29px,#2e0c04 29px 30px,#350a05 30px 31px,#260c04 31px 32px,#2f0b05 32px 33px,#3a0904 33px 34px,#3b0904 34px 35px,#310b05 35px 36px,#2a0c04 36px 38px,#340a05 38px 39px,#430905 39px 40px,#370a04 40px 41px,#2b0c04 41px 42px,#310b05 42px 43px,#410905 43px 44px,#390904 44px 45px,#370a04 45px 46px,#3a0904 46px 47px,#410905 47px 48px,#360a04 48px 49px,#330b05 49px 50px,#3c0a05 50px 51px,#340a05 51px 52px,#3a0904 52px 53px,#300b05 53px 54px,#2f0c04 54px 55px,#230d05 55px 56px,#280c04 56px 57px,#270c04 57px 58px,#2f0b05 58px 59px,#250c05 59px 60px,#370a04 60px 61px,#200d04 61px 62px,#250c05 62px 63px,#2a0c04 63px 64px,#370a04 64px 65px,#3e0a05 65px 66px,#410905 66px 67px,#3c0a05 67px 68px,#420905 68px 69px,#4d0705 69px 70px,#420905 70px 71px,#330b05 71px 72px,#250c05 72px 73px,#330b05 73px 74px,#3e0a05 74px 75px,#350a05 75px 76px,#240d05 76px 77px,#2c0c04 77px 78px,#390904 78px 79px,#3f0905 79px 80px,#3e0905 80px 81px,#200d04 81px 82px,#1f0e04 82px 83px,#360a05 83px 84px,#230d05 84px 85px,#340a05 85px 86px,#460805 86px 87px,#420905 87px 88px,#430805 88px 89px,#340a05 89px 90px,#220d05 90px 91px,#260c04 91px 92px,#270c04 92px 93px,#290d04 93px 94px,#330b05 94px 95px,#2e0c04 95px 96px,#2f0b05 96px 97px,#330b05 97px 98px,#2f0b05 98px 99px,#420905 99px 100px,#3c0a05 100px 101px,#350a05 101px 102px,#2f0c04 102px 103px,#3a0904 103px 104px,#460805 104px 105px,#430905 105px 106px,#390a04 106px 107px,#370a04 107px 108px,#3a0904 108px 109px,#390a04 109px 110px,#430905 110px 111px,#380a04 111px 112px,#3e0905 112px 113px,#190f04 113px 114px,#1a1b05 114px 115px,#171304 115px 116px,#161004 116px 117px,#1b0e04 117px 118px,#150f04 118px 119px,#190f04 119px 120px,#1d2206 120px 121px,#1f2506 121px 122px,#160f04 122px 123px,#230d05 123px 124px,#1c0e04 124px 125px,#161104 125px 126px,#220d04 126px 127px,#1d2106 127px 129px,#160f04 129px 130px,#1e0e04 130px 131px,#181504 131px 132px,#212a06 132px 133px,#1b0e04 133px 135px,#181504 135px 136px,#151004 136px 137px,#200d04 137px 138px,#202906 138px 139px,#180f04 139px 140px,#200d04 140px 141px,#1e2305 141px 142px,#170f04 142px 143px,#1f2406 143px 144px,#1a0e04 144px 145px,#1d0e04 145px 146px,#340a05 146px 147px,#1f0e04 147px 148px,#1b0e04 148px 149px,#250c05 149px 150px,#170f04 150px 151px,#181504 151px 153px,#3a0904 153px 154px,#340a05 154px 155px,#3d0a05 155px 156px,#410905 156px 157px,#400905 157px 158px,#4b0705 158px 159px,#420905 159px 160px,#490705 160px 161px,#150f04 161px 162px,#1d0e04 162px 163px,#1f2405 163px 164px,#191705 164px 165px,#181504 165px 166px,#191905 166px 167px,#1b1c05 167px 168px,#3b0904 168px 169px,#3a0904 169px 170px,#2f0b05 170px 171px,#350a05 171px 172px,#380a04 172px 173px,#3a0904 173px 174px,#360a04 174px 175px,#314e0a 175px 176px,#2c4309 176px 177px,#2e4609 177px 178px,#2f4a09 178px 179px,#293c08 179px 180px,#273907 180px 181px,#273707 181px 182px,#263408 182px 183px,#2a3f08 183px 184px,#2d4409 184px 185px,#283b08 185px 186px,#2d4609 186px 187px,#2e4609 187px 188px,#283908 188px 189px,#273807 189px 190px,#293d08 190px 191px,#253408 191px 192px,#283908 192px 193px,#263508 193px 194px,#233007 194px 195px,#243107 195px 196px,#243007 196px 197px,#2b4009 197px 198px,#2f4a09 198px 199px,#2f480a 199px 200px,#2a3f08 200px 201px,#243107 201px 202px,#2b4109 202px 203px,#293c08 203px 204px,#2d4409 204px 205px,#2e4609 205px 206px,#2d4409 206px 207px,#283a08 207px 208px,#283908 208px 209px,#243107 209px 210px,#2b4008 210px 211px,#273607 211px 212px,#253207 212px 213px,#283a08 213px 214px,#273907 214px 215px,#2b4009 215px 216px,#2f4a09 216px 217px,#2f480a 217px 218px,#2f490a 218px 219px,#222c07 219px 220px,#283908 220px 221px,#232e07 221px 222px,#263508 222px 223px,#273807 223px 224px,#263508 224px 225px,#2b4109 225px 226px,#273907 226px 227px,#283907 227px 228px,#2e490a 228px 229px,#2b4008 229px 230px,#293a08 230px 231px,#283a08 231px 232px,#232f07 232px 233px,#293a08 233px 234px,#283907 234px 235px,#273608 235px 236px,#2c4209 236px 237px,#263707 237px 238px,#2e470a 238px 239px,#314f0a 239px 240px,#2c4309 240px 241px,#2f4b09 241px 242px,#2d4509 242px 243px,#33510a 243px 244px,#2e470a 244px 245px,#304d09 245px 246px,#2d4409 246px 247px,#314e0a 247px 248px,#2c4309 248px 249px)"></div>
<div class="hm" style="left:141.0px;top:296px;width:5.0px;height:13px;background:linear-gradient(to bottom,#760407 0px 1px,#7c0507 1px 2px,#7a0507 2px 3px,#7e0507 3px 4px,#620406 4px 5px,#4f0705 5px 6px,#7c0507 6px 7px,#690406 7px 8px,#720407 8px 9px,#830508 9px 10px,#580505 10px 11px,#6c0406 11px 12px,#6f0406 12px 13px)"></div>
<div class="hm" style="left:146.0px;top:47px;width:5.5px;height:249px;background:linear-gradient(to bottom,#780407 0px 1px,#800507 1px 2px,#7f0507 2px 3px,#790407 3px 4px,#740407 4px 5px,#820508 5px 6px,#7c0507 6px 7px,#840508 7px 8px,#870508 8px 9px,#730407 9px 10px,#700406 10px 11px,#790407 11px 12px,#800507 12px 13px,#5d0405 13px 14px,#600405 14px 15px,#640406 15px 16px,#5b0505 16px 17px,#580505 17px 18px,#9a0609 18px 19px,#930609 19px 20px,#9d0609 20px 21px,#890508 21px 22px,#940609 22px 23px,#920609 23px 24px,#810507 24px 25px,#930609 25px 26px,#960609 26px 27px,#950609 27px 28px,#8a0508 28px 30px,#9c0609 30px 31px,#900508 31px 32px,#720407 32px 33px,#7b0507 33px 34px,#7c0507 34px 35px,#860508 35px 36px,#890508 36px 37px,#860508 37px 38px,#850508 38px 39px,#950609 39px 40px,#870508 40px 41px,#9f0609 41px 42px,#940609 42px 43px,#8a0508 43px 44px,#950609 44px 45px,#990609 45px 46px,#8d0508 46px 47px,#970609 47px 48px,#5c0505 48px 49px,#5b0505 49px 50px,#6a0406 50px 51px,#660406 51px 52px,#5d0405 52px 53px,#660406 53px 54px,#6f0406 54px 55px,#6b0406 55px 56px,#5c0505 56px 57px,#5f0405 57px 58px,#660406 58px 59px,#6e0406 59px 60px,#7c0507 60px 61px,#6f0406 61px 62px,#670406 62px 63px,#520705 63px 64px,#5b0505 64px 65px,#500705 65px 66px,#5b0505 66px 67px,#430905 67px 68px,#510705 68px 69px,#4d0705 69px 70px,#530605 70px 71px,#580605 71px 72px,#4d0705 72px 73px,#4f0705 73px 74px,#520705 74px 75px,#570605 75px 76px,#4e0605 76px 77px,#4a0705 77px 78px,#400905 78px 79px,#5c0505 79px 80px,#550606 80px 81px,#520705 81px 82px,#480804 82px 83px,#240d05 83px 84px,#1c0e04 84px 85px,#2e0c04 85px 86px,#300b05 86px 87px,#270c04 87px 88px,#550606 88px 89px,#490705 89px 90px,#480804 90px 91px,#450805 91px 92px,#400905 92px 93px,#450805 93px 94px,#480804 94px 95px,#550605 95px 96px,#380a04 96px 97px,#3d0a05 97px 98px,#3e0a05 98px 99px,#420905 99px 100px,#490705 100px 101px,#4d0605 101px 102px,#4c0705 102px 103px,#7e0507 103px 104px,#840508 104px 105px,#860508 105px 106px,#730407 106px 107px,#780407 107px 108px,#700406 108px 109px,#6e0406 109px 110px,#790407 110px 111px,#7e0507 111px 112px,#810507 112px 113px,#790407 113px 114px,#7b0507 114px 115px,#760407 115px 116px,#7f0507 116px 117px,#870508 117px 118px,#940609 118px 119px,#960609 119px 120px,#850508 120px 121px,#410905 121px 122px,#3b0904 122px 123px,#420905 123px 124px,#510705 124px 125px,#4f0705 125px 126px,#390904 126px 127px,#350a05 127px 128px,#320b05 128px 129px,#3e0905 129px 130px,#410905 130px 131px,#170f04 131px 132px,#2a0c04 132px 133px,#160f04 133px 134px,#1a1a05 134px 135px,#270c04 135px 136px,#220d04 136px 137px,#161204 137px 138px,#222c07 138px 139px,#253207 139px 140px,#2b4109 140px 141px,#202806 141px 142px,#1a1b05 142px 143px,#3a610b 143px 144px,#3a640c 144px 145px,#3d6a0c 145px 146px,#3f6d0d 146px 147px,#36580b 147px 148px,#3f6d0d 148px 149px,#3d670c 149px 150px,#3b650c 150px 151px,#385f0b 151px 152px,#3b650c 152px 153px,#360a04 153px 154px,#3b0904 154px 155px,#370a04 155px 156px,#320b05 156px 158px,#2b0c04 158px 159px,#2e0c04 159px 160px,#2f0b05 160px 161px,#3b650c 161px 162px,#36590b 162px 163px,#33530a 163px 164px,#385f0b 164px 165px,#385d0c 165px 166px,#385e0b 166px 167px,#365a0b 167px 168px,#240d05 168px 169px,#240c05 169px 170px,#1c0e04 170px 171px,#150f04 171px 172px,#230d05 172px 173px,#300b05 173px 174px,#2f0b05 174px 175px,#3a630b 175px 176px,#3d670c 176px 177px,#40700d 177px 178px,#49800f 178px 179px,#42730e 179px 180px,#40700d 180px 181px,#43760e 181px 182px,#487d0f 182px 183px,#3e6a0d 183px 184px,#497f0f 184px 185px,#3c670c 185px 186px,#3c660c 186px 187px,#35570b 187px 188px,#3d6a0c 188px 189px,#3f6d0d 189px 190px,#42740e 190px 191px,#41710d 191px 192px,#42730e 192px 193px,#45790e 193px 194px,#3e6a0d 194px 195px,#43750e 195px 196px,#45780e 196px 197px,#406f0d 197px 198px,#43750e 198px 199px,#44770e 199px 200px,#40700d 200px 201px,#43740e 201px 202px,#497f0f 202px 203px,#45790e 203px 204px,#44770e 204px 205px,#3b640c 205px 206px,#43750e 206px 207px,#3d6a0c 207px 208px,#43750e 208px 209px,#44760e 209px 210px,#44770e 210px 211px,#41710d 211px 212px,#3d690c 212px 213px,#385e0b 213px 214px,#3e6c0d 214px 215px,#3a630b 215px 216px,#39610b 216px 217px,#3a620b 217px 218px,#40700d 218px 219px,#3c680c 219px 220px,#3e6d0d 220px 221px,#3f6b0d 221px 222px,#41710d 222px 223px,#3e6a0d 223px 224px,#3a640c 224px 225px,#39600b 225px 226px,#3d6a0c 226px 227px,#3b640c 227px 228px,#385d0b 228px 229px,#406f0d 229px 230px,#3a630c 230px 231px,#44760e 231px 232px,#3f6e0d 232px 233px,#3d6a0c 233px 234px,#39600b 234px 235px,#3c660c 235px 236px,#406f0d 236px 237px,#45780e 237px 238px,#497f0f 238px 239px,#41710d 239px 240px,#42730e 240px 241px,#45790e 241px 242px,#406f0d 242px 243px,#45780e 243px 245px,#45790e 245px 246px,#3c650c 246px 247px,#385e0b 247px 248px,#3d690c 248px 249px)"></div>
<div class="hm" style="left:146.0px;top:296px;width:5.5px;height:13px;background:linear-gradient(to bottom,#2b0c04 0px 1px,#470804 1px 2px,#440805 2px 3px,#490705 3px 4px,#4c0705 4px 5px,#3e0905 5px 6px,#510705 6px 7px,#500705 7px 8px,#460804 8px 9px,#3d0a05 9px 10px,#3c0a05 10px 11px,#4e0605 11px 12px,#330b05 12px 13px)"></div>
<div class="hm" style="left:160.5px;top:47px;width:5.0px;height:249px;background:linear-gradient(to bottom,#800507 0px 1px,#7a0507 1px 2px,#710406 2px 3px,#7f0507 3px 4px,#800507 4px 5px,#810507 5px 6px,#890508 6px 7px,#780407 7px 8px,#7c0507 8px 9px,#810507 9px 10px,#890508 10px 11px,#7b0507 11px 12px,#850508 12px 13px,#2d0c04 13px 14px,#3a0904 14px 15px,#3f0905 15px 16px,#3a0904 16px 17px,#4a0705 17px 18px,#3a0904 18px 19px,#2d0c04 19px 20px,#280c04 20px 21px,#1e0e04 21px 22px,#240d05 22px 23px,#161404 23px 24px,#1d0e04 24px 25px,#270c04 25px 26px,#340a05 26px 27px,#2b0c04 27px 28px,#3a0904 28px 29px,#2b0c04 29px 30px,#280d04 30px 31px,#151004 31px 32px,#160f04 32px 33px,#170f04 33px 34px,#310b05 34px 35px,#320b05 35px 36px,#220d05 36px 37px,#2b0c04 37px 38px,#300b05 38px 39px,#2a0c04 39px 41px,#270c04 41px 42px,#220d05 42px 43px,#171204 43px 44px,#1c0e04 44px 45px,#310b05 45px 46px,#3d0a05 46px 47px,#300b05 47px 48px,#240c05 48px 50px,#310b05 50px 52px,#270c04 52px 53px,#2c0c04 53px 54px,#280d04 54px 55px,#2f0b05 55px 56px,#280c04 56px 57px,#190f04 57px 58px,#210d04 58px 59px,#2e0c04 59px 60px,#200d04 60px 61px,#240d05 61px 62px,#300b05 62px 63px,#280d04 63px 64px,#9c0609 64px 65px,#b1070a 65px 67px,#b3070b 67px 68px,#a20609 68px 69px,#b0070a 69px 70px,#9b0609 70px 71px,#9a0609 71px 72px,#a4060a 72px 73px,#af070a 73px 74px,#a00609 74px 75px,#9b0609 75px 76px,#a00609 76px 77px,#900508 77px 78px,#9f0609 78px 79px,#a5060a 79px 80px,#a00609 80px 81px,#a6060a 81px 82px,#ab070a 82px 83px,#a9060a 83px 84px,#aa070a 84px 85px,#b3070b 85px 86px,#510705 86px 88px,#4b0705 88px 89px,#540605 89px 90px,#4d0605 90px 91px,#500705 91px 93px,#4f0705 93px 94px,#5a0505 94px 95px,#530605 95px 96px,#5a0505 96px 97px,#590505 97px 98px,#580605 98px 99px,#4f0705 99px 100px,#520705 100px 102px,#490705 102px 103px,#4a0705 103px 104px,#490705 104px 105px,#480804 105px 106px,#510705 106px 107px,#480804 107px 108px,#3c0a05 108px 109px,#370a04 109px 110px,#3c0a05 110px 111px,#3e0a05 111px 112px,#430905 112px 113px,#a4060a 113px 114px,#b2070b 114px 115px,#ad070a 115px 116px,#ac070a 116px 117px,#a00609 117px 118px,#a6060a 118px 119px,#b0070a 119px 120px,#b5070b 120px 121px,#9a0609 121px 122px,#a6060a 122px 123px,#b2070a 123px 124px,#b1070a 124px 125px,#9c0609 125px 126px,#9d0609 126px 127px,#a4060a 127px 128px,#4e8810 128px 129px,#508c11 129px 130px,#528e11 130px 131px,#4e8910 131px 132px,#528e11 132px 133px,#4d8710 133px 134px,#4e8810 134px 136px,#528e11 136px 138px,#4f8a10 138px 139px,#528f11 139px 140px,#4c8510 140px 141px,#2d4609 141px 142px,#314c09 142px 143px,#2d4509 143px 144px,#2a3f08 144px 145px,#283a08 145px 146px,#2b4008 146px 147px,#2b4109 147px 148px,#2c4209 148px 149px,#2d4609 149px 150px,#35580b 150px 151px,#2d4409 151px 152px,#2a3f08 152px 153px,#487d0f 153px 154px,#4a810f 154px 155px,#497f0f 155px 158px,#43750e 158px 159px,#4b8310 159px 160px,#49800f 160px 161px,#4b8310 161px 162px,#4b8210 162px 163px,#43750e 163px 164px,#4a810f 164px 165px,#4a800f 165px 166px,#4a820f 166px 167px,#46790e 167px 168px,#32520a 168px 169px,#375c0c 169px 170px,#32500a 170px 171px,#4f8910 171px 172px,#4f8a10 172px 173px,#4c8410 173px 174px,#4f8910 174px 175px,#4f8a10 175px 176px,#4e8810 176px 177px,#4d8610 177px 178px,#4e8910 178px 179px,#4c8410 179px 180px,#467b0f 180px 181px,#4c8410 181px 182px,#487e0f 182px 183px,#508b11 183px 184px,#4c8410 184px 185px,#2b4109 185px 187px,#2c4509 187px 188px,#2e490a 188px 189px,#32500a 189px 190px,#314c09 190px 191px,#293d08 191px 192px,#273607 192px 193px,#2b4008 193px 194px,#2d4609 194px 195px,#2f4a09 195px 196px,#32500a 196px 197px,#293a08 197px 198px,#283a08 198px 199px,#293d08 199px 200px,#2d4409 200px 201px,#304c09 201px 202px,#293c08 202px 203px,#283908 203px 204px,#2d4609 204px 205px,#293c08 205px 206px,#2f480a 206px 207px,#2a4009 207px 208px,#2f490a 208px 209px,#2f4909 209px 210px,#2c4209 210px 211px,#2a3f08 211px 212px,#273907 212px 213px,#3c650c 213px 214px,#35570b 214px 215px,#33530a 215px 216px,#375c0b 216px 218px,#3c660c 218px 220px,#40700d 220px 221px,#3d6a0c 221px 222px,#3b650c 222px 223px,#36590b 223px 224px,#35570b 224px 226px,#39600b 226px 227px,#3a630c 227px 228px,#4e8810 228px 229px,#4d8710 229px 230px,#528e11 230px 231px,#4e8810 231px 232px,#518d11 232px 233px,#518c11 233px 234px,#4f8a10 234px 235px,#4f8a11 235px 236px,#4b8210 236px 237px,#4c8510 237px 238px,#4a800f 238px 239px,#497f0f 239px 240px,#4c8510 240px 242px,#4a810f 242px 243px,#4d8510 243px 244px,#4d8610 244px 245px,#4e8910 245px 246px,#4e8810 246px 247px,#4f8910 247px 248px,#4e8810 248px 249px)"></div>
<div class="hm" style="left:160.5px;top:296px;width:5.0px;height:13px;background:linear-gradient(to bottom,#4d0705 0px 1px,#530605 1px 2px,#400905 2px 3px,#410905 3px 4px,#4b0705 4px 5px,#3a0904 5px 6px,#2f0c04 6px 7px,#4e0605 7px 8px,#300b05 8px 9px,#4c0705 9px 10px,#2f0b05 10px 11px,#590505 11px 12px,#2f0c04 12px 13px)"></div>
<div class="hm" style="left:165.5px;top:47px;width:5.0px;height:249px;background:linear-gradient(to bottom,#3a0904 0px 1px,#410905 1px 2px,#340a05 2px 3px,#3e0a05 3px 4px,#330b05 4px 5px,#280c04 5px 6px,#330b05 6px 7px,#380a04 7px 8px,#340a05 8px 9px,#230d05 9px 10px,#2b0c04 10px 11px,#2d0c04 11px 12px,#2e0c04 12px 13px,#2f0b05 13px 14px,#250c05 14px 15px,#470804 15px 16px,#590505 16px 17px,#390a04 17px 18px,#2b0c04 18px 19px,#200d04 19px 20px,#270c04 20px 21px,#310b05 21px 22px,#330b05 22px 23px,#1f0e04 23px 24px,#240d05 24px 25px,#250c05 25px 26px,#340a05 26px 27px,#3a0904 27px 28px,#340a05 28px 29px,#3a0904 29px 30px,#2b0c04 30px 31px,#380a04 31px 32px,#2a0c04 32px 33px,#2c0c04 33px 34px,#320b05 34px 35px,#210d04 35px 36px,#1b0e04 36px 37px,#191905 37px 38px,#1a0e04 38px 39px,#1f0e04 39px 40px,#1e0e04 40px 41px,#270c04 41px 42px,#191605 42px 43px,#190f04 43px 44px,#200d04 44px 45px,#1f0e04 45px 46px,#2b0c04 46px 47px,#3a0904 47px 48px,#2b0c04 48px 49px,#1d0e04 49px 50px,#1a0e04 50px 51px,#200d04 51px 52px,#280d04 52px 53px,#1d0e04 53px 54px,#2b0c04 54px 55px,#1d0e04 55px 56px,#2a0c04 56px 57px,#2b0c04 57px 58px,#2d0c04 58px 59px,#400905 59px 60px,#2f0b05 60px 61px,#280c04 61px 62px,#2b0c04 62px 63px,#310b05 63px 64px,#360a04 64px 65px,#3a0904 65px 66px,#340a05 66px 67px,#3a0904 67px 68px,#430805 68px 69px,#3e0905 69px 70px,#3b0904 70px 72px,#260c04 72px 73px,#350a05 73px 74px,#3a0904 74px 75px,#3b0904 75px 76px,#370a04 76px 77px,#330b05 77px 78px,#350a05 78px 79px,#3f0905 79px 80px,#3b0904 80px 81px,#430805 81px 82px,#2c0c04 82px 83px,#2f0b05 83px 84px,#360a04 84px 85px,#370a04 85px 86px,#1c0e04 86px 87px,#1e0e04 87px 88px,#340a05 88px 89px,#240d05 89px 90px,#1e0e04 90px 91px,#1b0e04 91px 92px,#1f0e04 92px 93px,#2e0c04 93px 94px,#340a05 94px 95px,#1c0e04 95px 96px,#350a05 96px 97px,#2c0c04 97px 98px,#270c04 98px 99px,#3d0a05 99px 100px,#350a05 100px 101px,#240d05 101px 102px,#230d05 102px 103px,#200d04 103px 104px,#1c0e04 104px 105px,#220d05 105px 106px,#320b05 106px 107px,#340a05 107px 108px,#220d05 108px 109px,#470804 109px 110px,#300b05 110px 113px,#370a04 113px 114px,#2f0b05 114px 115px,#340a05 115px 116px,#480804 116px 117px,#3c0a05 117px 118px,#2a0c04 118px 119px,#2f0b05 119px 120px,#270c04 120px 122px,#2c0c04 122px 123px,#310b05 123px 124px,#2d0c04 124px 125px,#370a04 125px 126px,#310b05 126px 127px,#210d04 127px 128px,#1c2106 128px 129px,#202806 129px 130px,#181605 130px 131px,#1f2606 131px 132px,#1b1d06 132px 133px,#1b1d05 133px 134px,#2c4309 134px 135px,#2e4609 135px 136px,#2d4409 136px 137px,#1d2206 137px 138px,#283b08 138px 139px,#1f2406 139px 140px,#181605 140px 141px,#191705 141px 142px,#171504 142px 143px,#1e2305 143px 144px,#1e2405 144px 145px,#1d2206 145px 146px,#1b1d06 146px 147px,#191805 147px 148px,#1d2106 148px 149px,#222c07 149px 150px,#232f07 150px 151px,#1f2406 151px 152px,#283908 152px 153px,#32520a 153px 154px,#2f4b09 154px 155px,#2f480a 155px 156px,#2c4509 156px 157px,#34560b 157px 158px,#304c09 158px 159px,#2e4609 159px 160px,#293b08 160px 161px,#304b09 161px 162px,#2e4609 162px 163px,#2a3e08 163px 164px,#283a08 164px 165px,#243107 165px 166px,#222e07 166px 167px,#2a3e08 167px 168px,#273807 168px 169px,#293d08 169px 170px,#2d4309 170px 171px,#253408 171px 172px,#293d08 172px 173px,#2d4409 173px 175px,#2e4709 175px 176px,#283908 176px 177px,#273807 177px 178px,#232f07 178px 179px,#253308 179px 180px,#293c08 180px 181px,#253308 181px 182px,#2a3e08 182px 183px,#2b4109 183px 184px,#2a4009 184px 185px,#2a3e08 185px 186px,#253308 186px 187px,#293d08 187px 188px,#283908 188px 189px,#283b08 189px 190px,#2e4609 190px 191px,#2f4b09 191px 192px,#2d4609 192px 193px,#2a3e08 193px 194px,#293a08 194px 195px,#273807 195px 196px,#283908 196px 197px,#2a3f08 197px 198px,#283a08 198px 199px,#2d4409 199px 200px,#304b09 200px 201px,#2e4609 201px 202px,#304d09 202px 203px,#2e490a 203px 205px,#2e470a 205px 206px,#2c4209 206px 207px,#2d4509 207px 208px,#2c4509 208px 209px,#314f0a 209px 210px,#2c4509 210px 211px,#2e470a 211px 212px,#2b3f08 212px 213px,#34550a 213px 214px,#324f0a 214px 215px,#2d4409 215px 216px,#34540a 216px 217px,#304c09 217px 218px,#2c4309 218px 219px,#2b3f08 219px 220px,#2f4a09 220px 221px,#2b4109 221px 222px,#2a3e08 222px 223px,#2d4509 223px 224px,#293a08 224px 225px,#293c08 225px 227px,#2a4008 227px 228px,#283908 228px 229px,#293a08 229px 230px,#253208 230px 231px,#253308 231px 232px,#293d08 232px 233px,#2a3f08 233px 234px,#273607 234px 235px,#293c08 235px 236px,#283a08 236px 237px,#273707 237px 238px,#293b08 238px 239px,#314f0a 239px 240px,#2c4509 240px 241px,#2b3f08 241px 242px,#293d08 242px 243px,#2c4309 243px 244px,#263608 244px 245px,#283a08 245px 246px,#2b4009 246px 247px,#2c4509 247px 248px,#2a3e08 248px 249px)"></div>
<div class="hm" style="left:165.5px;top:296px;width:5.0px;height:13px;background:linear-gradient(to bottom,#6d0406 0px 1px,#6f0406 1px 2px,#a7060a 2px 3px,#9a0609 3px 4px,#950609 4px 5px,#9b0609 5px 6px,#8d0508 6px 7px,#630406 7px 8px,#980609 8px 9px,#990609 9px 10px,#8b0508 10px 11px,#5f0405 11px 12px,#990609 12px 13px)"></div>
<div class="hm" style="left:170.5px;top:47px;width:5.5px;height:249px;background:linear-gradient(to bottom,#870508 0px 1px,#7d0507 1px 3px,#830508 3px 4px,#7e0507 4px 5px,#860508 5px 6px,#810507 6px 7px,#840508 7px 8px,#800507 8px 9px,#710406 9px 10px,#6d0406 10px 11px,#a3060a 11px 12px,#9b0609 12px 13px,#a10609 13px 14px,#a20609 14px 15px,#510705 15px 16px,#4c0705 16px 17px,#410905 17px 18px,#3f0905 18px 19px,#310b05 19px 20px,#370a04 20px 21px,#410905 21px 22px,#300b05 22px 23px,#380a04 23px 24px,#410905 24px 25px,#490705 25px 26px,#3d0a05 26px 27px,#390904 27px 28px,#2f0c04 28px 29px,#2f0b05 29px 30px,#3b0904 30px 31px,#4a0705 31px 32px,#3c0a05 32px 33px,#470804 33px 34px,#460805 34px 35px,#3e0905 35px 36px,#4d0605 36px 37px,#340a05 37px 38px,#390a04 38px 39px,#3d0a05 39px 40px,#4d0705 40px 41px,#510705 41px 42px,#580605 42px 43px,#4c0705 43px 45px,#4e0605 45px 46px,#490705 46px 47px,#460804 47px 48px,#410905 48px 49px,#3d0a05 49px 50px,#350a05 50px 51px,#470804 51px 52px,#3f0905 52px 53px,#300b05 53px 54px,#390904 54px 55px,#3b0904 55px 56px,#3e0a05 56px 57px,#4a0705 57px 58px,#440805 58px 59px,#3f0905 59px 60px,#390904 60px 61px,#3b0a05 61px 62px,#3a0904 62px 63px,#3e0a05 63px 64px,#bd070b 64px 65px,#b3070b 65px 66px,#a3060a 66px 67px,#b4070b 67px 68px,#b2070b 68px 69px,#b1070a 69px 70px,#b0070a 70px 72px,#af070a 72px 73px,#b5070b 73px 74px,#b4070b 74px 75px,#b7070b 75px 76px,#a8060a 76px 77px,#a5060a 77px 78px,#9d0609 78px 79px,#a8060a 79px 80px,#ac070a 80px 81px,#a3060a 81px 82px,#a8060a 82px 83px,#bc070b 83px 84px,#ba070b 84px 85px,#a4060a 85px 86px,#a2060a 86px 87px,#a8060a 87px 88px,#540605 88px 89px,#560606 89px 90px,#5c0505 90px 91px,#5a0505 91px 92px,#4e0605 92px 93px,#550606 93px 94px,#540605 94px 96px,#4f0705 96px 97px,#470804 97px 98px,#440805 98px 99px,#490705 99px 100px,#460805 100px 101px,#3a0904 101px 102px,#4e0605 102px 103px,#520705 103px 105px,#5c0505 105px 106px,#4b0705 106px 107px,#5d0405 107px 108px,#580505 108px 109px,#5f0405 109px 110px,#5b0505 110px 111px,#5e0405 111px 113px,#820508 113px 114px,#720407 114px 115px,#6d0406 115px 116px,#770407 116px 117px,#890508 117px 118px,#800507 118px 119px,#860508 119px 120px,#850508 120px 121px,#880508 121px 122px,#8d0508 122px 123px,#7a0507 123px 124px,#800507 124px 125px,#7f0507 125px 126px,#7e0507 126px 127px,#780407 127px 128px,#4c8410 128px 129px,#4c8510 129px 130px,#4d8610 130px 131px,#40700d 131px 132px,#3c680c 132px 133px,#42730e 133px 134px,#41720d 134px 135px,#49800f 135px 136px,#4f8a10 136px 137px,#508b11 137px 138px,#4c8410 138px 139px,#45780e 139px 140px,#477c0f 140px 141px,#2b4009 141px 142px,#2b3f08 142px 143px,#2c4509 143px 144px,#2f4b09 144px 145px,#2d4409 145px 146px,#2c4209 146px 147px,#2c4509 147px 148px,#2e4609 148px 149px,#2e470a 149px 150px,#2a3f08 150px 151px,#243107 151px 152px,#263707 152px 153px,#3c690c 153px 154px,#4a800f 154px 155px,#487e0f 155px 156px,#4b8310 156px 157px,#4a810f 157px 158px,#49800f 158px 159px,#467b0f 159px 160px,#41720e 160px 161px,#487e0f 161px 162px,#4b8310 162px 163px,#4a820f 163px 164px,#497f0f 164px 165px,#4a820f 165px 166px,#467a0e 166px 167px,#3e6c0d 167px 168px,#4a800f 168px 169px,#487d0f 169px 170px,#43740e 170px 171px,#4c8410 171px 172px,#4a810f 172px 174px,#4c8510 174px 175px,#467a0f 175px 177px,#49800f 177px 178px,#477c0f 178px 179px,#44770e 179px 180px,#42730e 180px 182px,#43750e 182px 183px,#4a810f 183px 184px,#4a820f 184px 185px,#304b09 185px 186px,#39610b 186px 187px,#2c4309 187px 188px,#2e490a 188px 189px,#32520a 189px 190px,#375c0c 190px 191px,#32510a 191px 192px,#314c09 192px 193px,#324f0a 193px 194px,#32500a 194px 195px,#33530a 195px 196px,#34540a 196px 197px,#324f0a 197px 198px,#32520a 198px 199px,#2e470a 199px 200px,#2e490a 200px 201px,#2f480a 201px 202px,#2d4509 202px 203px,#293c08 203px 204px,#2a3e08 204px 205px,#2b4109 205px 206px,#2e4609 206px 207px,#314e0a 207px 209px,#2d4509 209px 210px,#2d4609 210px 211px,#2f4a09 211px 212px,#34540a 212px 213px,#375b0b 213px 214px,#324f0a 214px 215px,#2d4409 215px 216px,#2c4309 216px 217px,#33520a 217px 218px,#314f0a 218px 219px,#2f4a09 219px 220px,#33510a 220px 221px,#2f4a09 221px 222px,#304b09 222px 223px,#518e11 223px 224px,#539111 224px 225px,#4f8a11 225px 226px,#4e8910 226px 227px,#518d11 227px 228px,#528f11 228px 229px,#4f8910 229px 230px,#4e8710 230px 231px,#4f8a10 231px 232px,#4c8410 232px 233px,#4e8810 233px 234px,#518d11 234px 235px,#4e8710 235px 236px,#4f8910 236px 237px,#4e8810 237px 238px,#4f8910 238px 239px,#518d11 239px 240px,#539011 240px 241px,#518e11 241px 242px,#4d8710 242px 243px,#508c11 243px 244px,#4d8610 244px 245px,#4e8710 245px 246px,#518d11 246px 247px,#4f8a11 247px 248px,#4e8810 248px 249px)"></div>
<div class="hm" style="left:170.5px;top:296px;width:5.5px;height:13px;background:linear-gradient(to bottom,#360a05 0px 1px,#240d05 1px 2px,#490705 2px 3px,#330b05 3px 4px,#490705 4px 5px,#270c04 5px 6px,#410905 6px 7px,#370a04 7px 8px,#2d0c04 8px 9px,#3f0905 9px 10px,#450805 10px 11px,#3a0904 11px 12px,#320b05 12px 13px)"></div>
<div class="hm" style="left:15.3px;top:47px;width:1.6px;height:249px;background:linear-gradient(to bottom,#a3b4ae 0 128px,#9cc890 128px)"></div>
<div class="hm" style="left:15.3px;top:296px;width:1.6px;height:13px;background:#b89a60"></div>
<div class="hm" style="left:30.3px;top:47px;width:1.6px;height:249px;background:linear-gradient(to bottom,#a3b4ae 0 128px,#9cc890 128px)"></div>
<div class="hm" style="left:30.3px;top:296px;width:1.6px;height:13px;background:#b89a60"></div>
<div class="hm" style="left:45.3px;top:47px;width:1.6px;height:249px;background:linear-gradient(to bottom,#a3b4ae 0 128px,#9cc890 128px)"></div>
<div class="hm" style="left:45.3px;top:296px;width:1.6px;height:13px;background:#b89a60"></div>
<div class="hm" style="left:80.8px;top:47px;width:1.6px;height:249px;background:linear-gradient(to bottom,#a3b4ae 0 128px,#9cc890 128px)"></div>
<div class="hm" style="left:80.8px;top:296px;width:1.6px;height:13px;background:#b89a60"></div>
<div class="hm" style="left:95.8px;top:47px;width:1.6px;height:249px;background:linear-gradient(to bottom,#a3b4ae 0 128px,#9cc890 128px)"></div>
<div class="hm" style="left:95.8px;top:296px;width:1.6px;height:13px;background:#b89a60"></div>
<div class="hm" style="left:110.8px;top:47px;width:1.6px;height:249px;background:linear-gradient(to bottom,#a3b4ae 0 128px,#9cc890 128px)"></div>
<div class="hm" style="left:110.8px;top:296px;width:1.6px;height:13px;background:#b89a60"></div>
<div class="a" style="left:16.5px;top:269.3px;width:44.5px;height:0.9px;background:rgba(170,215,150,0.45)"></div>
<div class="a" style="left:82.0px;top:251.0px;width:44.0px;height:0.9px;background:rgba(170,215,150,0.35)"></div>
<div class="a" style="left:1.0px;top:295.5px;width:60.0px;height:1.0px;background:#b89a60"></div>
<div class="a" style="left:66.0px;top:295.5px;width:60.0px;height:1.0px;background:#b89a60"></div>
<div class="a" style="left:1.0px;top:308.5px;width:60.0px;height:1.0px;background:#c0a060"></div>
<div class="a" style="left:66.0px;top:308.5px;width:60.0px;height:1.0px;background:#c0a060"></div>
<div class="hm" style="left:178.5px;top:47px;width:4.5px;height:249px;background:#9cbcd8"></div>
<div class="hm" style="left:178.5px;top:296px;width:4.5px;height:13px;background:#f2d44a"></div>
</div>
<div class="a" style="left:185px;top:66.5px;font-size:8.8px;line-height:1;color:#2020a0;-webkit-text-stroke:0.15px #2020a0;transform-origin:0 0;transform:translate(10px,0) rotate(90deg)">IM &amp; IM/Hypoxia-subset</div>
<div class="a" style="left:185px;top:271px;font-size:8.8px;line-height:1;color:#d08238;-webkit-text-stroke:0.15px #d08238;transform-origin:0 0;transform:translate(10px,0) rotate(90deg)">Hypoxia-subset</div>
<div class="hm" style="left:21px;top:326px;width:130px;height:4.5px;background:linear-gradient(to right,#8ceb3c 0px 10px,#61c329 10px 20px,#3e9c1a 20px 30px,#23750f 30px 40px,#0f4e06 40px 50px,#032701 50px 60px,#000000 60px 70px,#260101 70px 80px,#4c0202 80px 90px,#730304 90px 100px,#990405 100px 110px,#bf0506 110px 120px,#e60608 120px 130px)"></div>
<div class="a" style="left:86.0px;top:318.0px;width:0;font-size:6.5px;line-height:1;color:#0a0a0a;display:flex;justify-content:center;"><span>LOG2</span></div>
<div class="a" style="left:26.4px;top:333.0px;width:0;font-size:6.5px;line-height:1;color:#0a0a0a;display:flex;justify-content:center;"><span>-3</span></div>
<div class="a" style="left:46.3px;top:333.0px;width:0;font-size:6.5px;line-height:1;color:#0a0a0a;display:flex;justify-content:center;"><span>-2</span></div>
<div class="a" style="left:66.3px;top:333.0px;width:0;font-size:6.5px;line-height:1;color:#0a0a0a;display:flex;justify-content:center;"><span>-1</span></div>
<div class="a" style="left:86.2px;top:333.0px;width:0;font-size:6.5px;line-height:1;color:#0a0a0a;display:flex;justify-content:center;"><span>0</span></div>
<div class="a" style="left:106.2px;top:333.0px;width:0;font-size:6.5px;line-height:1;color:#0a0a0a;display:flex;justify-content:center;"><span>1</span></div>
<div class="a" style="left:126.2px;top:333.0px;width:0;font-size:6.5px;line-height:1;color:#0a0a0a;display:flex;justify-content:center;"><span>2</span></div>
<div class="a" style="left:146.1px;top:333.0px;width:0;font-size:6.5px;line-height:1;color:#0a0a0a;display:flex;justify-content:center;"><span>3</span></div>
<div class="a" style="left:207.2px;top:-0.6px;font-size:11.6px;font-weight:bold;line-height:11px;color:#000">B</div>
<svg class="a" style="left:0;top:0" width="520" height="347" viewBox="0 0 520 347">
<defs>
<clipPath id="aM"><ellipse cx="249" cy="76" rx="39" ry="35"/></clipPath>
<clipPath id="aC"><ellipse cx="271.6" cy="79.5" rx="42.5" ry="39"/></clipPath>
<clipPath id="bM"><ellipse cx="440" cy="76" rx="38.7" ry="35"/></clipPath>
<clipPath id="bC"><ellipse cx="467.7" cy="79.2" rx="43.7" ry="37.8"/></clipPath>
</defs>
<ellipse cx="249" cy="76" rx="39" ry="35" fill="#dc72f2" />
<ellipse cx="271.6" cy="79.5" rx="42.5" ry="39" fill="#a8f7fb" />
<ellipse cx="249" cy="76" rx="39" ry="35" fill="#8db1f4" clip-path="url(#aC)"/>
<ellipse cx="252.9" cy="113.9" rx="13.4" ry="12" fill="#f4d64c" />
<ellipse cx="252.9" cy="113.9" rx="13.4" ry="12" fill="#f0c682" clip-path="url(#aM)"/>
<ellipse cx="252.9" cy="113.9" rx="13.4" ry="12" fill="#a3e4a0" clip-path="url(#aC)"/>
<g clip-path="url(#aM)">
<ellipse cx="252.9" cy="113.9" rx="13.4" ry="12" fill="#9fd795" clip-path="url(#aC)"/>
</g>
<ellipse cx="249" cy="76" rx="39" ry="35" fill="none" stroke="#1c1830" stroke-width="1.4"/>
<ellipse cx="271.6" cy="79.5" rx="42.5" ry="39" fill="none" stroke="#1c1830" stroke-width="1.4"/>
<ellipse cx="252.9" cy="113.9" rx="13.4" ry="12" fill="none" stroke="#1c1830" stroke-width="1.4"/>
<ellipse cx="440" cy="76" rx="38.7" ry="35" fill="#dc72f2" />
<ellipse cx="467.7" cy="79.2" rx="43.7" ry="37.8" fill="#a8f7fb" />
<ellipse cx="440" cy="76" rx="38.7" ry="35" fill="#8db1f4" clip-path="url(#bC)"/>
<ellipse cx="449.2" cy="115.5" rx="17.2" ry="16.6" fill="#f4d64c" />
<ellipse cx="449.2" cy="115.5" rx="17.2" ry="16.6" fill="#f0c682" clip-path="url(#bM)"/>
<ellipse cx="449.2" cy="115.5" rx="17.2" ry="16.6" fill="#a3e4a0" clip-path="url(#bC)"/>
<g clip-path="url(#bM)">
<ellipse cx="449.2" cy="115.5" rx="17.2" ry="16.6" fill="#9fd795" clip-path="url(#bC)"/>
</g>
<ellipse cx="440" cy="76" rx="38.7" ry="35" fill="none" stroke="#1c1830" stroke-width="1.4"/>
<ellipse cx="467.7" cy="79.2" rx="43.7" ry="37.8" fill="none" stroke="#1c1830" stroke-width="1.4"/>
<ellipse cx="449.2" cy="115.5" rx="17.2" ry="16.6" fill="none" stroke="#1c1830" stroke-width="1.4"/>
<line x1="262.0" y1="110.0" x2="318.3" y2="45.2" stroke="#222" stroke-width="0.9"/>
<polygon points="322.6,40.3 320.3,46.9 316.4,43.5" fill="#111"/>
<line x1="448.0" y1="103.5" x2="400.1" y2="46.4" stroke="#222" stroke-width="0.9"/>
<polygon points="395.9,41.4 402.1,44.7 398.1,48.1" fill="#111"/>
<rect x="322.9" y="48.9" width="71.5" height="62.4" fill="none" stroke="#555" stroke-width="0.9"/>
<path d="M206.8,154.3 C203.5,155 202.6,157 202.6,160 L202.6,292 C202.6,297 200.2,299.8 197.3,300.5 C200.2,301.2 202.6,304 202.6,309 L202.6,339 C202.6,342.5 204,344.4 207.4,345" fill="none" stroke="#444" stroke-width="0.9"/>
</svg>
<div class="a" style="left:221.0px;top:23.0px;width:0;font-size:8.6px;line-height:1;color:#b83a3a;display:flex;justify-content:center;-webkit-text-stroke:0.2px #b83a3a"><span>IM</span></div>
<div class="a" style="left:221.0px;top:33.8px;width:0;font-size:8.6px;line-height:1;color:#b83a3a;display:flex;justify-content:center;-webkit-text-stroke:0.2px #b83a3a"><span>(1624)</span></div>
<div class="a" style="left:251.8px;top:23.2px;font-size:8.3px;font-weight:bold;line-height:1;color:#111">24h</div>
<div class="a" style="left:251.8px;top:29.9px;width:14.4px;height:1.0px;background:#222"></div>
<div class="a" style="left:271.5px;top:23.3px;font-size:8.6px;line-height:1;color:#2e2eb8;-webkit-text-stroke:0.15px currentColor">IM/0.5% O<sub style="font-size:5.5px;vertical-align:-1.5px">2</sub></div>
<div class="a" style="left:293.0px;top:33.6px;width:0;font-size:8.6px;line-height:1;color:#2e2eb8;display:flex;justify-content:center;-webkit-text-stroke:0.15px currentColor"><span>(1980)</span></div>
<div class="a" style="left:259.0px;top:47.5px;width:0;font-size:6.6px;line-height:1;color:#1a2238;display:flex;justify-content:center;-webkit-text-stroke:0.2px #1a2238"><span>1109</span></div>
<div class="a" style="left:259.0px;top:55.1px;width:0;font-size:6.6px;line-height:1;color:#1a2238;display:flex;justify-content:center;-webkit-text-stroke:0.2px #1a2238"><span>(43.82%)</span></div>
<div class="a" style="left:221.8px;top:65.7px;width:0;font-size:6.6px;line-height:1;color:#1a2238;display:flex;justify-content:center;-webkit-text-stroke:0.2px #1a2238"><span>451</span></div>
<div class="a" style="left:221.8px;top:73.3px;width:0;font-size:6.6px;line-height:1;color:#1a2238;display:flex;justify-content:center;-webkit-text-stroke:0.2px #1a2238"><span>(17.82%)</span></div>
<div class="a" style="left:301.5px;top:68.8px;width:0;font-size:6.6px;line-height:1;color:#1a2238;display:flex;justify-content:center;-webkit-text-stroke:0.2px #1a2238"><span>771</span></div>
<div class="a" style="left:301.5px;top:76.4px;width:0;font-size:6.6px;line-height:1;color:#1a2238;display:flex;justify-content:center;-webkit-text-stroke:0.2px #1a2238"><span>(30.46%)</span></div>
<div class="a" style="left:255.2px;top:95.6px;width:0;font-size:6.6px;line-height:1;color:#1a2238;display:flex;justify-content:center;-webkit-text-stroke:0.2px #1a2238"><span>53</span></div>
<div class="a" style="left:255.2px;top:103.2px;width:0;font-size:6.6px;line-height:1;color:#1a2238;display:flex;justify-content:center;-webkit-text-stroke:0.2px #1a2238"><span>(2.09%)</span></div>
<div class="a" style="left:277.8px;top:102.6px;width:0;font-size:6.6px;line-height:1;color:#1a2238;display:flex;justify-content:center;-webkit-text-stroke:0.2px #1a2238"><span>47</span></div>
<div class="a" style="left:277.8px;top:110.2px;width:0;font-size:6.6px;line-height:1;color:#1a2238;display:flex;justify-content:center;-webkit-text-stroke:0.2px #1a2238"><span>(1.86%)</span></div>
<div class="a" style="left:228.5px;top:110.2px;width:0;font-size:6.6px;line-height:1;color:#1a2238;display:flex;justify-content:center;-webkit-text-stroke:0.2px #1a2238"><span>11</span></div>
<div class="a" style="left:228.5px;top:117.8px;width:0;font-size:6.6px;line-height:1;color:#1a2238;display:flex;justify-content:center;-webkit-text-stroke:0.2px #1a2238"><span>(0.43%)</span></div>
<div class="a" style="left:252.8px;top:118.8px;width:0;font-size:6.6px;line-height:1;color:#1a2238;display:flex;justify-content:center;"><span>89</span></div>
<div class="a" style="left:252.8px;top:128.0px;width:0;font-size:6.6px;line-height:1;color:#1a2238;display:flex;justify-content:center;"><span>(3.52%)</span></div>
<div class="a" style="left:267.6px;top:121.2px;font-size:8.4px;line-height:1;color:#dc8e4a;-webkit-text-stroke:0.15px currentColor">0.5% O<sub style="font-size:5.4px;vertical-align:-1.5px">2</sub></div>
<div class="a" style="left:282.7px;top:130.2px;width:0;font-size:8.4px;line-height:1;color:#dc8e4a;display:flex;justify-content:center;-webkit-text-stroke:0.15px currentColor"><span>(200)</span></div>
<div class="a" style="left:416.6px;top:23.0px;width:0;font-size:8.6px;line-height:1;color:#b83a3a;display:flex;justify-content:center;-webkit-text-stroke:0.2px #b83a3a"><span>IM</span></div>
<div class="a" style="left:416.6px;top:33.8px;width:0;font-size:8.6px;line-height:1;color:#b83a3a;display:flex;justify-content:center;-webkit-text-stroke:0.2px #b83a3a"><span>(1457)</span></div>
<div class="a" style="left:445.3px;top:23.3px;font-size:8.3px;font-weight:bold;line-height:1;color:#111">96h</div>
<div class="a" style="left:445.3px;top:29.9px;width:14.5px;height:1.0px;background:#222"></div>
<div class="a" style="left:474.6px;top:23.3px;font-size:8.6px;line-height:1;color:#2e2eb8;-webkit-text-stroke:0.15px currentColor">IM/0.5% O<sub style="font-size:5.5px;vertical-align:-1.5px">2</sub></div>
<div class="a" style="left:496.1px;top:33.6px;width:0;font-size:8.6px;line-height:1;color:#2e2eb8;display:flex;justify-content:center;-webkit-text-stroke:0.15px currentColor"><span>(1757)</span></div>
<div class="a" style="left:452.6px;top:46.8px;width:0;font-size:6.6px;line-height:1;color:#1a2238;display:flex;justify-content:center;-webkit-text-stroke:0.2px #1a2238"><span>883</span></div>
<div class="a" style="left:452.6px;top:54.4px;width:0;font-size:6.6px;line-height:1;color:#1a2238;display:flex;justify-content:center;-webkit-text-stroke:0.2px #1a2238"><span>(35.89%)</span></div>
<div class="a" style="left:415.3px;top:65.8px;width:0;font-size:6.6px;line-height:1;color:#1a2238;display:flex;justify-content:center;-webkit-text-stroke:0.2px #1a2238"><span>495</span></div>
<div class="a" style="left:415.3px;top:73.4px;width:0;font-size:6.6px;line-height:1;color:#1a2238;display:flex;justify-content:center;-webkit-text-stroke:0.2px #1a2238"><span>(20.12%)</span></div>
<div class="a" style="left:493.0px;top:67.3px;width:0;font-size:6.6px;line-height:1;color:#1a2238;display:flex;justify-content:center;-webkit-text-stroke:0.2px #1a2238"><span>739</span></div>
<div class="a" style="left:493.0px;top:74.9px;width:0;font-size:6.6px;line-height:1;color:#1a2238;display:flex;justify-content:center;-webkit-text-stroke:0.2px #1a2238"><span>(30.04%)</span></div>
<div class="a" style="left:450.5px;top:91.2px;width:0;font-size:6.6px;line-height:1;color:#1a2238;display:flex;justify-content:center;-webkit-text-stroke:0.2px #1a2238"><span>66</span></div>
<div class="a" style="left:450.5px;top:98.8px;width:0;font-size:6.6px;line-height:1;color:#1a2238;display:flex;justify-content:center;-webkit-text-stroke:0.2px #1a2238"><span>(2.68%)</span></div>
<div class="a" style="left:476.5px;top:100.0px;width:0;font-size:6.6px;line-height:1;color:#1a2238;display:flex;justify-content:center;-webkit-text-stroke:0.2px #1a2238"><span>69</span></div>
<div class="a" style="left:476.5px;top:107.6px;width:0;font-size:6.6px;line-height:1;color:#1a2238;display:flex;justify-content:center;-webkit-text-stroke:0.2px #1a2238"><span>(2.8%)</span></div>
<div class="a" style="left:423.8px;top:108.8px;width:0;font-size:6.6px;line-height:1;color:#1a2238;display:flex;justify-content:center;-webkit-text-stroke:0.2px #1a2238"><span>13</span></div>
<div class="a" style="left:423.8px;top:116.4px;width:0;font-size:6.6px;line-height:1;color:#1a2238;display:flex;justify-content:center;-webkit-text-stroke:0.2px #1a2238"><span>(0.53%)</span></div>
<div class="a" style="left:449.0px;top:116.6px;width:0;font-size:6.6px;line-height:1;color:#1a2238;display:flex;justify-content:center;-webkit-text-stroke:0.2px #1a2238"><span>195</span></div>
<div class="a" style="left:449.0px;top:124.2px;width:0;font-size:6.6px;line-height:1;color:#1a2238;display:flex;justify-content:center;-webkit-text-stroke:0.2px #1a2238"><span>(7.93%)</span></div>
<div class="a" style="left:469.5px;top:116.2px;font-size:8.4px;line-height:1;color:#dc8e4a;-webkit-text-stroke:0.15px currentColor">0.5% O<sub style="font-size:5.4px;vertical-align:-1.5px">2</sub></div>
<div class="a" style="left:485.0px;top:127.2px;width:0;font-size:8.4px;line-height:1;color:#dc8e4a;display:flex;justify-content:center;-webkit-text-stroke:0.15px currentColor"><span>(343)</span></div>
<div class="a" style="left:320.7px;top:30.8px;font-size:7.1px;line-height:1;color:#111;letter-spacing:-0.02px">Persistently Upregulated</div>
<div class="a" style="left:329.2px;top:40.0px;font-size:7.1px;line-height:1;color:#111;letter-spacing:-0.12px">Pro-Survival Genes</div>
<div class="a" style="left:329.5px;top:52.7px;font-size:6.9px;line-height:1;font-style:italic;color:#1a1a1a">ARG2</div>
<div class="a" style="left:365.4px;top:52.7px;font-size:6.9px;line-height:1;font-style:italic;color:#1a1a1a">FCAR</div>
<div class="a" style="left:329.5px;top:61.2px;font-size:6.9px;line-height:1;font-style:italic;color:#1a1a1a">AXL</div>
<div class="a" style="left:365.4px;top:61.2px;font-size:6.9px;line-height:1;font-style:italic;color:#1a1a1a">KRT17</div>
<div class="a" style="left:329.5px;top:69.8px;font-size:6.9px;line-height:1;font-style:italic;color:#1a1a1a">BHLHE40</div>
<div class="a" style="left:365.4px;top:69.8px;font-size:6.9px;line-height:1;font-style:italic;color:#1a1a1a">NDRG1</div>
<div class="a" style="left:329.5px;top:78.3px;font-size:6.9px;line-height:1;font-style:italic;color:#1a1a1a">CD6</div>
<div class="a" style="left:365.4px;top:78.3px;font-size:6.9px;line-height:1;font-style:italic;color:#1a1a1a">NOL3</div>
<div class="a" style="left:329.5px;top:86.8px;font-size:6.9px;line-height:1;font-style:italic;color:#1a1a1a">CHI3L1</div>
<div class="a" style="left:365.4px;top:86.8px;font-size:6.9px;line-height:1;font-style:italic;color:#1a1a1a">SLC2A3</div>
<div class="a" style="left:329.5px;top:95.3px;font-size:6.9px;line-height:1;font-style:italic;color:#1a1a1a">DDIT4</div>
<div class="a" style="left:365.4px;top:95.3px;font-size:6.9px;line-height:1;font-style:italic;color:#1a1a1a">SULF2</div>
<div class="a" style="left:329.5px;top:103.9px;font-size:6.9px;line-height:1;font-style:italic;color:#1a1a1a">FAM134B</div>
<div class="a" style="left:365.4px;top:103.9px;font-size:6.9px;line-height:1;font-style:italic;color:#1a1a1a">VEGFA</div>
<div class="a" style="left:207.5px;top:143.6px;font-size:12px;font-weight:bold;line-height:12px;color:#000">C</div>
<div class="a" style="left:215.5px;top:165.8px;width:144.1px;height:0.8px;background:#b8b8b8"></div>
<div class="a" style="left:359.2px;top:164.8px;width:0.8px;height:1.0px;background:#bbb"></div>
<div class="a" style="left:359.6px;top:159.8px;width:0;font-size:5.2px;line-height:1;color:#333;display:flex;justify-content:center;font-weight:bold"><span>0</span></div>
<div class="a" style="left:335.2px;top:164.8px;width:0.8px;height:1.0px;background:#bbb"></div>
<div class="a" style="left:335.6px;top:159.8px;width:0;font-size:5.2px;line-height:1;color:#333;display:flex;justify-content:center;font-weight:bold"><span>1</span></div>
<div class="a" style="left:311.2px;top:164.8px;width:0.8px;height:1.0px;background:#bbb"></div>
<div class="a" style="left:311.6px;top:159.8px;width:0;font-size:5.2px;line-height:1;color:#333;display:flex;justify-content:center;font-weight:bold"><span>2</span></div>
<div class="a" style="left:287.2px;top:164.8px;width:0.8px;height:1.0px;background:#bbb"></div>
<div class="a" style="left:287.6px;top:159.8px;width:0;font-size:5.2px;line-height:1;color:#333;display:flex;justify-content:center;font-weight:bold"><span>3</span></div>
<div class="a" style="left:263.2px;top:164.8px;width:0.8px;height:1.0px;background:#bbb"></div>
<div class="a" style="left:263.6px;top:159.8px;width:0;font-size:5.2px;line-height:1;color:#333;display:flex;justify-content:center;font-weight:bold"><span>4</span></div>
<div class="a" style="left:239.2px;top:164.8px;width:0.8px;height:1.0px;background:#bbb"></div>
<div class="a" style="left:239.6px;top:159.8px;width:0;font-size:5.2px;line-height:1;color:#333;display:flex;justify-content:center;font-weight:bold"><span>5</span></div>
<div class="a" style="left:215.2px;top:164.8px;width:0.8px;height:1.0px;background:#bbb"></div>
<div class="a" style="left:215.6px;top:159.8px;width:0;font-size:5.2px;line-height:1;color:#333;display:flex;justify-content:center;font-weight:bold"><span>6</span></div>
<div class="a" style="left:287.6px;top:153.9px;width:0;font-size:4.8px;line-height:1;color:#111;display:flex;justify-content:center;font-weight:bold"><span>-Log(p-value)</span></div>
<div class="a" style="left:370.0px;top:165.8px;width:144.0px;height:0.8px;background:#b8b8b8"></div>
<div class="a" style="left:369.6px;top:164.8px;width:0.8px;height:1.0px;background:#bbb"></div>
<div class="a" style="left:370.0px;top:159.8px;width:0;font-size:5.2px;line-height:1;color:#333;display:flex;justify-content:center;font-weight:bold"><span>0</span></div>
<div class="a" style="left:393.6px;top:164.8px;width:0.8px;height:1.0px;background:#bbb"></div>
<div class="a" style="left:394.0px;top:159.8px;width:0;font-size:5.2px;line-height:1;color:#333;display:flex;justify-content:center;font-weight:bold"><span>1</span></div>
<div class="a" style="left:417.6px;top:164.8px;width:0.8px;height:1.0px;background:#bbb"></div>
<div class="a" style="left:418.0px;top:159.8px;width:0;font-size:5.2px;line-height:1;color:#333;display:flex;justify-content:center;font-weight:bold"><span>2</span></div>
<div class="a" style="left:441.6px;top:164.8px;width:0.8px;height:1.0px;background:#bbb"></div>
<div class="a" style="left:442.0px;top:159.8px;width:0;font-size:5.2px;line-height:1;color:#333;display:flex;justify-content:center;font-weight:bold"><span>3</span></div>
<div class="a" style="left:465.6px;top:164.8px;width:0.8px;height:1.0px;background:#bbb"></div>
<div class="a" style="left:466.0px;top:159.8px;width:0;font-size:5.2px;line-height:1;color:#333;display:flex;justify-content:center;font-weight:bold"><span>4</span></div>
<div class="a" style="left:489.6px;top:164.8px;width:0.8px;height:1.0px;background:#bbb"></div>
<div class="a" style="left:490.0px;top:159.8px;width:0;font-size:5.2px;line-height:1;color:#333;display:flex;justify-content:center;font-weight:bold"><span>5</span></div>
<div class="a" style="left:513.6px;top:164.8px;width:0.8px;height:1.0px;background:#bbb"></div>
<div class="a" style="left:514.0px;top:159.8px;width:0;font-size:5.2px;line-height:1;color:#333;display:flex;justify-content:center;font-weight:bold"><span>6</span></div>
<div class="a" style="left:442.0px;top:153.9px;width:0;font-size:4.8px;line-height:1;color:#111;display:flex;justify-content:center;font-weight:bold"><span>-Log(p-value)</span></div>
<div class="a" style="left:236.7px;top:167.9px;width:122.9px;height:5.4px;background:#8ced46"></div>
<div class="a" style="left:370px;top:167.9px;width:110.3px;height:5.4px;background:#c016e8"></div>
<div class="a" style="left:249.7px;top:176.0px;width:109.9px;height:5.4px;background:#8ced46"></div>
<div class="a" style="left:370px;top:176.0px;width:110.3px;height:5.4px;background:#c016e8"></div>
<div class="a" style="left:270.8px;top:184.1px;width:88.8px;height:5.4px;background:#8ced46"></div>
<div class="a" style="left:370px;top:184.1px;width:110.3px;height:5.4px;background:#c016e8"></div>
<div class="a" style="left:268.5px;top:192.2px;width:91.1px;height:5.4px;background:#8ced46"></div>
<div class="a" style="left:370px;top:192.2px;width:109.7px;height:5.4px;background:#c016e8"></div>
<div class="a" style="left:288.6px;top:200.3px;width:71.0px;height:5.4px;background:#8ced46"></div>
<div class="a" style="left:370px;top:200.3px;width:102.5px;height:5.4px;background:#c016e8"></div>
<div class="a" style="left:289.2px;top:208.4px;width:70.4px;height:5.4px;background:#8ced46"></div>
<div class="a" style="left:370px;top:208.4px;width:102.2px;height:5.4px;background:#c016e8"></div>
<div class="a" style="left:289.2px;top:216.5px;width:70.4px;height:5.4px;background:#8ced46"></div>
<div class="a" style="left:370px;top:216.5px;width:92.2px;height:5.4px;background:#c016e8"></div>
<div class="a" style="left:289.2px;top:224.6px;width:70.4px;height:5.4px;background:#8ced46"></div>
<div class="a" style="left:370px;top:224.6px;width:92.2px;height:5.4px;background:#c016e8"></div>
<div class="a" style="left:289.2px;top:232.7px;width:70.4px;height:5.4px;background:#8ced46"></div>
<div class="a" style="left:370px;top:232.7px;width:92.2px;height:5.4px;background:#c016e8"></div>
<div class="a" style="left:289.2px;top:240.8px;width:70.4px;height:5.4px;background:#8ced46"></div>
<div class="a" style="left:370px;top:240.8px;width:90.3px;height:5.4px;background:#c016e8"></div>
<div class="a" style="left:328.3px;top:167.4px;width:1.8px;height:78.9px;background:#f4ee10"></div>
<div class="a" style="left:400.2px;top:167.4px;width:2.0px;height:78.9px;background:#f0c040"></div>
<div class="a" style="right:162.7px;top:168.9px;font-size:4.75px;font-weight:bold;line-height:1;color:#000;-webkit-text-stroke:0.12px #000">Tissue Morphology</div>
<div class="a" style="left:373px;top:168.9px;font-size:4.75px;font-weight:bold;line-height:1;color:#4a0a5a">Carbohydrate Metabolism</div>
<div class="a" style="right:162.7px;top:177.0px;font-size:4.75px;font-weight:bold;line-height:1;color:#000;-webkit-text-stroke:0.12px #000">Embryonic Development</div>
<div class="a" style="left:373px;top:177.0px;font-size:4.75px;font-weight:bold;line-height:1;color:#4a0a5a">Cell Morphology</div>
<div class="a" style="right:162.7px;top:185.1px;font-size:4.75px;font-weight:bold;line-height:1;color:#000;-webkit-text-stroke:0.12px #000">Cell Cycle</div>
<div class="a" style="left:373px;top:185.1px;font-size:4.75px;font-weight:bold;line-height:1;color:#4a0a5a">Cellular Assembly and Organization</div>
<div class="a" style="right:162.7px;top:193.2px;font-size:4.75px;font-weight:bold;line-height:1;color:#000;-webkit-text-stroke:0.12px #000">DNA Replication, Recombination, and Repair</div>
<div class="a" style="left:373px;top:193.2px;font-size:4.75px;font-weight:bold;line-height:1;color:#4a0a5a">Cellular Function and Maintenance</div>
<div class="a" style="right:162.7px;top:201.3px;font-size:4.75px;font-weight:bold;line-height:1;color:#000;-webkit-text-stroke:0.12px #000">Auditory and Vestibular System Development and Function</div>
<div class="a" style="left:373px;top:201.3px;font-size:4.75px;font-weight:bold;line-height:1;color:#4a0a5a">Hematological System Development and Function</div>
<div class="a" style="right:162.7px;top:209.4px;font-size:4.75px;font-weight:bold;line-height:1;color:#000;-webkit-text-stroke:0.12px #000">Cancer</div>
<div class="a" style="left:373px;top:209.4px;font-size:4.75px;font-weight:bold;line-height:1;color:#4a0a5a">Tissue Morphology</div>
<div class="a" style="right:162.7px;top:217.5px;font-size:4.75px;font-weight:bold;line-height:1;color:#000;-webkit-text-stroke:0.12px #000">Carbohydrate Metabolism</div>
<div class="a" style="left:373px;top:217.5px;font-size:4.75px;font-weight:bold;line-height:1;color:#4a0a5a">Amino Acid Metabolism</div>
<div class="a" style="right:162.7px;top:225.6px;font-size:4.75px;font-weight:bold;line-height:1;color:#000;-webkit-text-stroke:0.12px #000">Cell Signaling</div>
<div class="a" style="left:373px;top:225.6px;font-size:4.75px;font-weight:bold;line-height:1;color:#4a0a5a">Post-Translational Modification</div>
<div class="a" style="right:162.7px;top:233.7px;font-size:4.75px;font-weight:bold;line-height:1;color:#000;-webkit-text-stroke:0.12px #000">Cellular Development</div>
<div class="a" style="left:373px;top:233.7px;font-size:4.75px;font-weight:bold;line-height:1;color:#4a0a5a">Small Molecule Biochemistry</div>
<div class="a" style="right:162.7px;top:241.8px;font-size:4.75px;font-weight:bold;line-height:1;color:#000;-webkit-text-stroke:0.12px #000">Cellular Growth and Proliferation</div>
<div class="a" style="left:373px;top:241.8px;font-size:4.75px;font-weight:bold;line-height:1;color:#4a0a5a">Visual System Development and Function</div>
<div class="a" style="left:215.5px;top:264.2px;width:144.1px;height:0.8px;background:#b8b8b8"></div>
<div class="a" style="left:359.2px;top:263.2px;width:0.8px;height:1.0px;background:#bbb"></div>
<div class="a" style="left:359.6px;top:258.2px;width:0;font-size:5.2px;line-height:1;color:#333;display:flex;justify-content:center;font-weight:bold"><span>0</span></div>
<div class="a" style="left:335.2px;top:263.2px;width:0.8px;height:1.0px;background:#bbb"></div>
<div class="a" style="left:335.6px;top:258.2px;width:0;font-size:5.2px;line-height:1;color:#333;display:flex;justify-content:center;font-weight:bold"><span>1</span></div>
<div class="a" style="left:311.2px;top:263.2px;width:0.8px;height:1.0px;background:#bbb"></div>
<div class="a" style="left:311.6px;top:258.2px;width:0;font-size:5.2px;line-height:1;color:#333;display:flex;justify-content:center;font-weight:bold"><span>2</span></div>
<div class="a" style="left:287.2px;top:263.2px;width:0.8px;height:1.0px;background:#bbb"></div>
<div class="a" style="left:287.6px;top:258.2px;width:0;font-size:5.2px;line-height:1;color:#333;display:flex;justify-content:center;font-weight:bold"><span>3</span></div>
<div class="a" style="left:263.2px;top:263.2px;width:0.8px;height:1.0px;background:#bbb"></div>
<div class="a" style="left:263.6px;top:258.2px;width:0;font-size:5.2px;line-height:1;color:#333;display:flex;justify-content:center;font-weight:bold"><span>4</span></div>
<div class="a" style="left:239.2px;top:263.2px;width:0.8px;height:1.0px;background:#bbb"></div>
<div class="a" style="left:239.6px;top:258.2px;width:0;font-size:5.2px;line-height:1;color:#333;display:flex;justify-content:center;font-weight:bold"><span>5</span></div>
<div class="a" style="left:215.2px;top:263.2px;width:0.8px;height:1.0px;background:#bbb"></div>
<div class="a" style="left:215.6px;top:258.2px;width:0;font-size:5.2px;line-height:1;color:#333;display:flex;justify-content:center;font-weight:bold"><span>6</span></div>
<div class="a" style="left:287.6px;top:252.3px;width:0;font-size:4.8px;line-height:1;color:#111;display:flex;justify-content:center;font-weight:bold"><span>-Log(p-value)</span></div>
<div class="a" style="left:370.0px;top:264.2px;width:144.0px;height:0.8px;background:#b8b8b8"></div>
<div class="a" style="left:369.6px;top:263.2px;width:0.8px;height:1.0px;background:#bbb"></div>
<div class="a" style="left:370.0px;top:258.2px;width:0;font-size:5.2px;line-height:1;color:#333;display:flex;justify-content:center;font-weight:bold"><span>0</span></div>
<div class="a" style="left:393.6px;top:263.2px;width:0.8px;height:1.0px;background:#bbb"></div>
<div class="a" style="left:394.0px;top:258.2px;width:0;font-size:5.2px;line-height:1;color:#333;display:flex;justify-content:center;font-weight:bold"><span>1</span></div>
<div class="a" style="left:417.6px;top:263.2px;width:0.8px;height:1.0px;background:#bbb"></div>
<div class="a" style="left:418.0px;top:258.2px;width:0;font-size:5.2px;line-height:1;color:#333;display:flex;justify-content:center;font-weight:bold"><span>2</span></div>
<div class="a" style="left:441.6px;top:263.2px;width:0.8px;height:1.0px;background:#bbb"></div>
<div class="a" style="left:442.0px;top:258.2px;width:0;font-size:5.2px;line-height:1;color:#333;display:flex;justify-content:center;font-weight:bold"><span>3</span></div>
<div class="a" style="left:465.6px;top:263.2px;width:0.8px;height:1.0px;background:#bbb"></div>
<div class="a" style="left:466.0px;top:258.2px;width:0;font-size:5.2px;line-height:1;color:#333;display:flex;justify-content:center;font-weight:bold"><span>4</span></div>
<div class="a" style="left:489.6px;top:263.2px;width:0.8px;height:1.0px;background:#bbb"></div>
<div class="a" style="left:490.0px;top:258.2px;width:0;font-size:5.2px;line-height:1;color:#333;display:flex;justify-content:center;font-weight:bold"><span>5</span></div>
<div class="a" style="left:513.6px;top:263.2px;width:0.8px;height:1.0px;background:#bbb"></div>
<div class="a" style="left:514.0px;top:258.2px;width:0;font-size:5.2px;line-height:1;color:#333;display:flex;justify-content:center;font-weight:bold"><span>6</span></div>
<div class="a" style="left:442.0px;top:252.3px;width:0;font-size:4.8px;line-height:1;color:#111;display:flex;justify-content:center;font-weight:bold"><span>-Log(p-value)</span></div>
<div class="a" style="left:223.0px;top:265.9px;width:136.6px;height:5.4px;background:#8ced46"></div>
<div class="a" style="left:370px;top:265.9px;width:126.0px;height:5.4px;background:#c016e8"></div>
<div class="a" style="left:236.3px;top:273.9px;width:123.3px;height:5.4px;background:#8ced46"></div>
<div class="a" style="left:370px;top:273.9px;width:126.0px;height:5.4px;background:#c016e8"></div>
<div class="a" style="left:252.1px;top:282.0px;width:107.5px;height:5.4px;background:#8ced46"></div>
<div class="a" style="left:370px;top:282.0px;width:126.0px;height:5.4px;background:#c016e8"></div>
<div class="a" style="left:261.3px;top:290.0px;width:98.3px;height:5.4px;background:#8ced46"></div>
<div class="a" style="left:370px;top:290.0px;width:126.0px;height:5.4px;background:#c016e8"></div>
<div class="a" style="left:261.3px;top:298.0px;width:98.3px;height:5.4px;background:#8ced46"></div>
<div class="a" style="left:370px;top:298.0px;width:105.9px;height:5.4px;background:#c016e8"></div>
<div class="a" style="left:261.3px;top:306.0px;width:98.3px;height:5.4px;background:#8ced46"></div>
<div class="a" style="left:370px;top:306.0px;width:102.5px;height:5.4px;background:#c016e8"></div>
<div class="a" style="left:268.3px;top:314.1px;width:91.3px;height:5.4px;background:#8ced46"></div>
<div class="a" style="left:370px;top:314.1px;width:102.5px;height:5.4px;background:#c016e8"></div>
<div class="a" style="left:268.3px;top:322.1px;width:91.3px;height:5.4px;background:#8ced46"></div>
<div class="a" style="left:370px;top:322.1px;width:100.3px;height:5.4px;background:#c016e8"></div>
<div class="a" style="left:268.1px;top:330.1px;width:91.5px;height:5.4px;background:#8ced46"></div>
<div class="a" style="left:370px;top:330.1px;width:86.9px;height:5.4px;background:#c016e8"></div>
<div class="a" style="left:268.1px;top:338.2px;width:91.5px;height:5.4px;background:#8ced46"></div>
<div class="a" style="left:370px;top:338.2px;width:86.9px;height:5.4px;background:#c016e8"></div>
<div class="a" style="left:328.3px;top:265.4px;width:1.8px;height:78.3px;background:#f4ee10"></div>
<div class="a" style="left:400.2px;top:265.4px;width:2.0px;height:78.3px;background:#f0c040"></div>
<div class="a" style="right:162.7px;top:266.9px;font-size:4.75px;font-weight:bold;line-height:1;color:#000;-webkit-text-stroke:0.12px #000">Cancer</div>
<div class="a" style="left:373px;top:266.9px;font-size:4.75px;font-weight:bold;line-height:1;color:#4a0a5a">Cell-To-Cell Signaling and Interaction</div>
<div class="a" style="right:162.7px;top:274.9px;font-size:4.75px;font-weight:bold;line-height:1;color:#000;-webkit-text-stroke:0.12px #000">Cell Cycle</div>
<div class="a" style="left:373px;top:274.9px;font-size:4.75px;font-weight:bold;line-height:1;color:#4a0a5a">Hematological System Development and Function</div>
<div class="a" style="right:162.7px;top:283.0px;font-size:4.75px;font-weight:bold;line-height:1;color:#000;-webkit-text-stroke:0.12px #000">Gastrointestinal Disease</div>
<div class="a" style="left:373px;top:283.0px;font-size:4.75px;font-weight:bold;line-height:1;color:#4a0a5a">Immune Cell Trafficking</div>
<div class="a" style="right:162.7px;top:291.0px;font-size:4.75px;font-weight:bold;line-height:1;color:#000;-webkit-text-stroke:0.12px #000">Cellular Growth and Proliferation</div>
<div class="a" style="left:373px;top:291.0px;font-size:4.75px;font-weight:bold;line-height:1;color:#4a0a5a">Tissue Development</div>
<div class="a" style="right:162.7px;top:299.0px;font-size:4.75px;font-weight:bold;line-height:1;color:#000;-webkit-text-stroke:0.12px #000">Hematological System Development and Function</div>
<div class="a" style="left:373px;top:299.0px;font-size:4.75px;font-weight:bold;line-height:1;color:#4a0a5a">Cell Death and Survival</div>
<div class="a" style="right:162.7px;top:307.0px;font-size:4.75px;font-weight:bold;line-height:1;color:#000;-webkit-text-stroke:0.12px #000">Inflammatory Response</div>
<div class="a" style="left:373px;top:307.0px;font-size:4.75px;font-weight:bold;line-height:1;color:#4a0a5a">Cellular Movement</div>
<div class="a" style="right:162.7px;top:315.1px;font-size:4.75px;font-weight:bold;line-height:1;color:#000;-webkit-text-stroke:0.12px #000">Organ Morphology</div>
<div class="a" style="left:373px;top:315.1px;font-size:4.75px;font-weight:bold;line-height:1;color:#4a0a5a">Inflammatory Response</div>
<div class="a" style="right:162.7px;top:323.1px;font-size:4.75px;font-weight:bold;line-height:1;color:#000;-webkit-text-stroke:0.12px #000">Skeletal and Muscular System Development and Function</div>
<div class="a" style="left:373px;top:323.1px;font-size:4.75px;font-weight:bold;line-height:1;color:#4a0a5a">Cellular Function and Maintenance</div>
<div class="a" style="right:162.7px;top:331.1px;font-size:4.75px;font-weight:bold;line-height:1;color:#000;-webkit-text-stroke:0.12px #000">Cellular Movement</div>
<div class="a" style="left:373px;top:331.1px;font-size:4.75px;font-weight:bold;line-height:1;color:#4a0a5a">Amino Acid Metabolism</div>
<div class="a" style="right:162.7px;top:339.2px;font-size:4.75px;font-weight:bold;line-height:1;color:#000;-webkit-text-stroke:0.12px #000">Hematopoiesis</div>
<div class="a" style="left:373px;top:339.2px;font-size:4.75px;font-weight:bold;line-height:1;color:#4a0a5a">Lipid Metabolism</div>
<div class="a" style="left:490.2px;top:227.7px;font-size:8.3px;font-weight:bold;line-height:1;color:#111">24h</div>
<div class="a" style="left:490.2px;top:235.2px;width:14.8px;height:1.0px;background:#222"></div>
<div class="a" style="left:481px;top:237.7px;font-size:8.3px;font-weight:bold;line-height:1;color:#111;letter-spacing:0.45px">0.5% O<sub style="font-size:5.3px;vertical-align:-1.5px">2</sub></div>
<div class="a" style="left:481.0px;top:245.3px;width:33.5px;height:1.0px;background:#222"></div>
<div class="a" style="left:490.2px;top:325.6px;font-size:8.3px;font-weight:bold;line-height:1;color:#111">96h</div>
<div class="a" style="left:490.2px;top:333.1px;width:14.8px;height:1.0px;background:#222"></div>
<div class="a" style="left:481px;top:334.9px;font-size:8.3px;font-weight:bold;line-height:1;color:#111;letter-spacing:0.45px">0.5% O<sub style="font-size:5.3px;vertical-align:-1.5px">2</sub></div>
<div class="a" style="left:481.0px;top:342.5px;width:33.5px;height:1.0px;background:#222"></div>
</body></html>
